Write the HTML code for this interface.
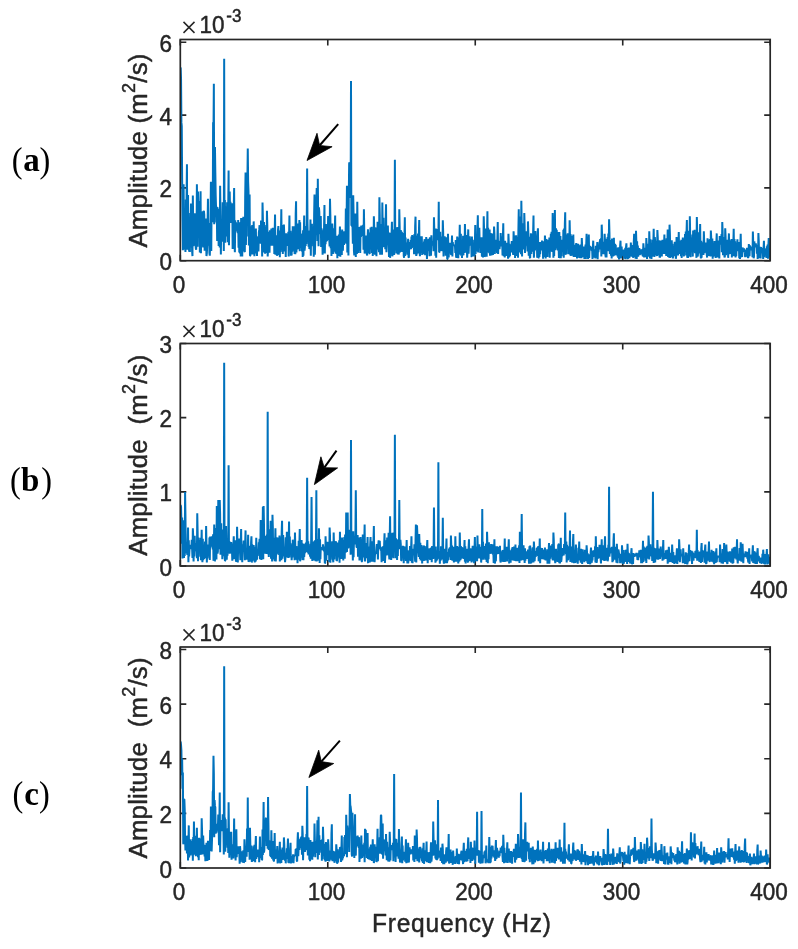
<!DOCTYPE html>
<html><head><meta charset="utf-8"><title>Spectra</title>
<style>
html,body{margin:0;padding:0;background:#fff;}
body{width:798px;height:949px;overflow:hidden;}
svg{display:block;will-change:transform;}
.t{font-family:"Liberation Sans",sans-serif;font-size:22.5px;fill:#262626;stroke:#262626;stroke-width:0.45px;stroke-linejoin:round;}
</style></head><body>
<svg width="798" height="949" viewBox="0 0 798 949">
<rect width="798" height="949" fill="#fff"/>
<path d="M180.30,260.7v-6M180.30,39.5v6M327.78,260.7v-6M327.78,39.5v6M475.25,260.7v-6M475.25,39.5v6M622.73,260.7v-6M622.73,39.5v6M770.20,260.7v-6M770.20,39.5v6M180.3,260.70h6M770.2,260.70h-6M180.3,187.90h6M770.2,187.90h-6M180.3,115.10h6M770.2,115.10h-6M180.3,42.30h6M770.2,42.30h-6" stroke="#262626" stroke-width="1.6" fill="none"/>
<clipPath id="c0"><rect x="180.3" y="39.5" width="589.9000000000001" height="221.2"/></clipPath>
<polyline clip-path="url(#c0)" points="180.30,67.78 180.67,67.78 181.04,78.70 181.41,122.38 181.77,126.02 182.14,180.62 182.51,220.19 182.88,250.27 183.25,199.65 183.62,184.26 183.99,249.40 184.36,213.13 184.72,246.88 185.09,246.50 185.46,251.99 185.83,199.46 186.20,246.34 186.57,195.85 186.94,164.24 187.31,249.81 187.67,234.80 188.04,195.09 188.41,245.57 188.78,213.02 189.15,251.74 189.52,221.35 189.89,251.95 190.25,217.58 190.62,235.28 190.99,203.40 191.36,247.44 191.73,222.99 192.10,251.11 192.47,256.09 192.84,195.54 193.20,224.73 193.57,246.11 193.94,243.74 194.31,219.09 194.68,213.38 195.05,231.95 195.42,223.82 195.78,248.13 196.15,249.75 196.52,242.87 196.89,184.26 197.26,216.32 197.63,246.76 198.00,191.54 198.37,206.43 198.73,201.13 199.10,206.79 199.47,210.59 199.84,252.54 200.21,222.45 200.58,191.18 200.95,253.18 201.32,214.14 201.68,246.48 202.05,225.87 202.42,215.05 202.79,211.29 203.16,247.50 203.53,214.23 203.90,210.73 204.26,214.83 204.63,250.64 205.00,219.79 205.37,233.88 205.74,218.63 206.11,242.96 206.48,256.04 206.85,253.29 207.21,245.55 207.58,224.04 207.95,198.82 208.32,245.72 208.69,226.77 209.06,222.93 209.43,252.82 209.80,255.68 210.16,242.46 210.53,217.29 210.90,181.71 211.27,251.00 211.64,199.66 212.01,191.52 212.38,222.05 212.74,217.82 213.11,122.37 213.48,132.85 213.85,83.80 214.22,224.18 214.59,153.05 214.96,147.01 215.33,172.73 215.69,195.32 216.06,208.09 216.43,222.49 216.80,206.78 217.17,240.87 217.54,207.26 217.91,213.69 218.27,210.99 218.64,245.93 219.01,209.10 219.38,241.06 219.75,247.51 220.12,185.72 220.49,215.53 220.86,254.46 221.22,222.90 221.59,222.02 221.96,224.26 222.33,241.84 222.70,202.27 223.07,219.84 223.44,205.24 223.81,251.11 224.17,58.68 224.54,239.45 224.91,200.12 225.28,242.80 225.65,210.68 226.02,236.48 226.39,206.61 226.75,232.15 227.12,202.14 227.49,223.48 227.86,242.31 228.23,207.12 228.60,170.43 228.97,245.28 229.34,205.44 229.70,191.54 230.07,211.04 230.44,201.66 230.81,222.98 231.18,209.52 231.55,203.91 231.92,222.43 232.28,203.16 232.65,249.01 233.02,209.45 233.39,241.90 233.76,206.95 234.13,187.90 234.50,245.03 234.87,252.28 235.23,220.28 235.60,228.26 235.97,222.34 236.34,227.31 236.71,227.14 237.08,230.32 237.45,231.69 237.82,233.02 238.18,220.00 238.55,247.80 238.92,225.22 239.29,252.61 239.66,222.25 240.03,253.44 240.40,237.34 240.76,256.37 241.13,218.11 241.50,239.31 241.87,250.90 242.24,256.52 242.61,218.10 242.98,250.49 243.35,216.74 243.71,251.10 244.08,222.37 244.45,251.49 244.82,252.09 245.19,196.70 245.56,172.61 245.93,245.05 246.30,213.68 246.66,236.48 247.03,182.34 247.40,179.43 247.77,148.59 248.14,181.67 248.51,191.41 248.88,245.56 249.24,222.33 249.61,194.45 249.98,255.61 250.35,255.65 250.72,226.36 251.09,230.31 251.46,232.59 251.83,254.45 252.19,225.05 252.56,254.39 252.93,244.45 253.30,254.51 253.67,221.39 254.04,238.80 254.41,256.21 254.77,249.89 255.14,252.62 255.51,249.38 255.88,228.62 256.25,253.55 256.62,239.44 256.99,255.94 257.36,237.37 257.72,250.77 258.09,236.33 258.46,251.36 258.83,232.75 259.20,229.91 259.57,225.19 259.94,231.92 260.31,233.58 260.67,243.66 261.04,220.40 261.41,240.40 261.78,230.51 262.15,256.52 262.52,202.46 262.89,217.66 263.25,250.96 263.62,252.34 263.99,222.12 264.36,246.62 264.73,226.67 265.10,253.81 265.47,238.02 265.84,239.01 266.20,225.05 266.57,252.98 266.94,210.83 267.31,225.28 267.68,256.44 268.05,249.73 268.42,231.80 268.79,249.42 269.15,235.70 269.52,252.61 269.89,230.19 270.26,244.37 270.63,232.54 271.00,245.66 271.37,228.42 271.73,245.37 272.10,233.54 272.47,245.82 272.84,227.72 273.21,244.40 273.58,231.06 273.95,229.48 274.32,254.09 274.68,232.58 275.05,214.47 275.42,254.84 275.79,238.72 276.16,246.56 276.53,235.25 276.90,255.81 277.26,252.83 277.63,246.21 278.00,230.05 278.37,226.15 278.74,237.06 279.11,255.35 279.48,230.53 279.85,257.26 280.21,235.57 280.58,251.92 280.95,233.00 281.32,209.38 281.69,249.37 282.06,250.07 282.43,232.44 282.80,253.94 283.16,225.09 283.53,251.63 283.90,224.50 284.27,234.42 284.64,236.58 285.01,251.22 285.38,236.70 285.74,257.09 286.11,233.18 286.48,244.85 286.85,233.86 287.22,242.99 287.59,245.96 287.96,243.61 288.33,231.75 288.69,256.45 289.06,236.25 289.43,215.56 289.80,248.54 290.17,248.58 290.54,230.76 290.91,255.75 291.27,237.28 291.64,255.54 292.01,232.46 292.38,251.70 292.75,226.28 293.12,249.99 293.49,228.96 293.86,250.61 294.22,226.38 294.59,254.09 294.96,231.30 295.33,254.24 295.70,213.61 296.07,201.37 296.44,252.39 296.81,226.81 297.17,231.54 297.54,223.55 297.91,248.34 298.28,248.89 298.65,224.24 299.02,231.59 299.39,220.07 299.75,251.13 300.12,222.22 300.49,247.88 300.86,233.47 301.23,247.84 301.60,236.45 301.97,251.41 302.34,234.35 302.70,256.87 303.07,230.30 303.44,255.80 303.81,234.05 304.18,215.56 304.55,250.64 304.92,246.96 305.29,228.51 305.65,245.95 306.02,226.12 306.39,243.91 306.76,223.60 307.13,168.61 307.50,222.54 307.87,238.98 308.23,234.51 308.60,246.76 308.97,233.96 309.34,248.99 309.71,230.58 310.08,249.35 310.45,219.44 310.82,255.78 311.18,227.48 311.55,246.25 311.92,223.74 312.29,243.47 312.66,230.07 313.03,244.28 313.40,228.82 313.76,256.66 314.13,214.89 314.50,194.45 314.87,254.71 315.24,240.22 315.61,217.45 315.98,235.32 316.35,206.15 316.71,187.90 317.08,193.86 317.45,241.01 317.82,178.80 318.19,219.17 318.56,246.34 318.93,207.38 319.30,211.88 319.66,234.16 320.03,225.39 320.40,231.71 320.77,216.09 321.14,246.98 321.51,228.39 321.88,230.77 322.24,230.35 322.61,254.65 322.98,250.53 323.35,250.03 323.72,250.60 324.09,224.64 324.46,205.01 324.83,253.48 325.19,226.20 325.56,244.27 325.93,223.94 326.30,237.88 326.67,240.66 327.04,240.58 327.41,227.07 327.78,238.16 328.14,216.14 328.51,235.80 328.88,239.70 329.25,238.66 329.62,246.35 329.99,198.82 330.36,215.08 330.72,248.34 331.09,230.04 331.46,255.94 331.83,225.36 332.20,223.45 332.57,233.01 332.94,254.10 333.31,233.30 333.67,244.04 334.04,228.35 334.41,251.65 334.78,230.42 335.15,215.56 335.52,253.59 335.89,245.44 336.25,240.60 336.62,253.88 336.99,235.73 337.36,258.15 337.73,242.22 338.10,252.24 338.47,255.83 338.84,234.60 339.20,252.77 339.57,238.19 339.94,226.48 340.31,256.79 340.68,236.94 341.05,234.86 341.42,231.04 341.79,255.02 342.15,229.55 342.52,234.66 342.89,250.61 343.26,235.80 343.63,232.05 344.00,244.98 344.37,231.25 344.73,235.16 345.10,239.62 345.47,242.70 345.84,208.52 346.21,243.70 346.58,221.66 346.95,185.72 347.32,252.58 347.68,224.48 348.05,211.21 348.42,255.56 348.79,195.13 349.16,163.51 349.53,162.42 349.90,177.58 350.26,183.20 350.63,197.85 351.00,80.88 351.37,225.72 351.74,204.89 352.11,226.66 352.48,224.50 352.85,243.80 353.21,195.18 353.58,213.22 353.95,251.11 354.32,255.30 354.69,217.01 355.06,249.71 355.43,213.48 355.80,256.94 356.16,222.14 356.53,251.96 356.90,254.01 357.27,201.73 357.64,229.11 358.01,253.01 358.38,231.83 358.74,250.77 359.11,227.09 359.48,245.55 359.85,231.09 360.22,252.98 360.59,226.55 360.96,236.97 361.33,225.64 361.69,235.50 362.06,230.76 362.43,235.85 362.80,234.14 363.17,224.67 363.54,249.84 363.91,209.38 364.28,232.37 364.64,253.60 365.01,250.77 365.38,250.67 365.75,235.54 366.12,237.87 366.49,245.29 366.86,254.25 367.22,255.46 367.59,238.82 367.96,229.18 368.33,242.81 368.70,232.64 369.07,250.98 369.44,253.40 369.81,253.50 370.17,236.94 370.54,227.63 370.91,238.34 371.28,249.48 371.65,226.65 372.02,253.08 372.39,237.18 372.75,255.91 373.12,237.49 373.49,251.43 373.86,216.29 374.23,228.10 374.60,252.18 374.97,254.50 375.34,227.39 375.70,238.35 376.07,228.35 376.44,256.19 376.81,232.89 377.18,249.45 377.55,221.79 377.92,245.89 378.29,223.84 378.65,247.88 379.02,252.15 379.39,197.36 379.76,214.32 380.13,254.67 380.50,230.57 380.87,224.17 381.23,226.87 381.60,234.45 381.97,254.82 382.34,202.46 382.71,228.09 383.08,247.20 383.45,217.76 383.82,247.03 384.18,230.55 384.55,233.25 384.92,229.85 385.29,249.28 385.66,221.19 386.03,204.28 386.40,252.15 386.77,244.44 387.13,235.57 387.50,242.14 387.87,225.54 388.24,244.62 388.61,234.02 388.98,256.94 389.35,232.51 389.71,240.13 390.08,257.83 390.45,250.24 390.82,233.03 391.19,251.65 391.56,234.01 391.93,221.75 392.30,256.36 392.66,254.33 393.03,236.12 393.40,232.75 393.77,229.62 394.14,255.09 394.51,236.28 394.88,159.87 395.24,239.87 395.61,250.38 395.98,233.32 396.35,253.59 396.72,230.21 397.09,227.39 397.46,228.54 397.83,254.58 398.19,233.97 398.56,254.48 398.93,252.46 399.30,209.38 399.67,225.98 400.04,252.30 400.41,249.50 400.78,230.17 401.14,233.02 401.51,243.76 401.88,231.70 402.25,252.06 402.62,238.54 402.99,250.83 403.36,232.95 403.72,255.68 404.09,257.82 404.46,235.74 404.83,217.38 405.20,255.96 405.57,237.58 405.94,248.48 406.31,242.47 406.67,249.13 407.04,245.41 407.41,254.59 407.78,244.24 408.15,238.86 408.52,257.10 408.89,257.82 409.25,244.34 409.62,249.44 409.99,242.12 410.36,248.44 410.73,240.01 411.10,249.28 411.47,236.64 411.84,248.01 412.20,235.05 412.57,244.93 412.94,247.30 413.31,246.81 413.68,235.85 414.05,254.22 414.42,233.97 414.79,253.47 415.15,226.19 415.52,216.66 415.89,250.59 416.26,255.84 416.63,254.15 417.00,252.46 417.37,238.22 417.73,236.52 418.10,233.52 418.47,253.50 418.84,234.89 419.21,219.93 419.58,252.19 419.95,256.19 420.32,236.30 420.68,252.84 421.05,243.08 421.42,252.98 421.79,236.24 422.16,254.87 422.53,252.64 422.90,254.29 423.27,242.89 423.63,253.96 424.00,242.41 424.37,241.41 424.74,239.25 425.11,255.17 425.48,241.86 425.85,255.04 426.21,237.04 426.58,244.73 426.95,258.91 427.32,246.91 427.69,247.71 428.06,247.95 428.43,238.86 428.80,251.02 429.16,245.02 429.53,256.17 429.90,237.21 430.27,252.12 430.64,239.08 431.01,255.85 431.38,235.25 431.74,244.51 432.11,244.91 432.48,244.66 432.85,241.41 433.22,243.14 433.59,251.12 433.96,217.38 434.33,231.08 434.69,250.91 435.06,239.68 435.43,255.68 435.80,228.53 436.17,257.71 436.54,235.43 436.91,238.87 437.28,239.04 437.64,228.97 438.01,238.40 438.38,239.99 438.75,201.73 439.12,252.26 439.49,252.04 439.86,244.36 440.22,231.75 440.59,251.01 440.96,240.21 441.33,240.14 441.70,236.68 442.07,241.57 442.44,251.19 442.81,220.30 443.17,231.71 443.54,256.51 443.91,242.25 444.28,247.34 444.65,236.36 445.02,246.03 445.39,237.36 445.76,255.63 446.12,237.33 446.49,255.40 446.86,240.30 447.23,258.89 447.60,258.89 447.97,233.76 448.34,246.33 448.70,257.40 449.07,243.56 449.44,253.30 449.81,242.76 450.18,245.40 450.55,246.89 450.92,254.13 451.29,254.37 451.65,246.27 452.02,235.58 452.39,256.52 452.76,242.16 453.13,245.61 453.50,245.22 453.87,245.30 454.23,245.70 454.60,244.75 454.97,245.78 455.34,253.05 455.71,240.08 456.08,256.36 456.45,257.63 456.82,255.82 457.18,236.56 457.55,257.95 457.92,242.95 458.29,258.16 458.66,237.55 459.03,252.71 459.40,241.12 459.77,224.66 460.13,253.20 460.50,254.36 460.87,233.86 461.24,255.85 461.61,242.51 461.98,258.02 462.35,241.12 462.71,255.38 463.08,235.71 463.45,255.13 463.82,241.14 464.19,252.03 464.56,252.83 464.93,223.94 465.30,236.88 465.66,252.62 466.03,242.18 466.40,235.07 466.77,243.44 467.14,257.61 467.51,252.51 467.88,239.68 468.24,229.40 468.61,253.64 468.98,244.30 469.35,245.55 469.72,236.37 470.09,244.79 470.46,239.58 470.83,243.58 471.19,238.78 471.56,257.13 471.93,236.51 472.30,254.50 472.67,254.55 473.04,252.01 473.41,254.68 473.78,256.26 474.14,239.66 474.51,256.40 474.88,242.57 475.25,225.03 475.62,254.03 475.99,236.95 476.36,241.67 476.72,234.00 477.09,251.47 477.46,229.29 477.83,215.20 478.20,252.41 478.57,229.27 478.94,241.37 479.31,227.75 479.67,243.21 480.04,237.83 480.41,252.89 480.78,239.27 481.15,250.63 481.52,237.26 481.89,256.80 482.26,238.01 482.62,251.67 482.99,257.55 483.36,249.72 483.73,216.29 484.10,230.42 484.47,256.75 484.84,256.11 485.20,228.57 485.57,253.08 485.94,237.47 486.31,248.52 486.68,256.78 487.05,233.08 487.42,211.20 487.79,252.47 488.15,227.72 488.52,243.84 488.89,236.52 489.26,253.24 489.63,229.43 490.00,255.68 490.37,233.07 490.73,253.36 491.10,233.35 491.47,255.39 491.84,239.86 492.21,253.22 492.58,233.47 492.95,254.92 493.32,242.22 493.68,253.27 494.05,226.48 494.42,233.81 494.79,253.94 495.16,243.69 495.53,239.85 495.90,243.70 496.27,241.00 496.63,244.88 497.00,253.22 497.37,239.48 497.74,222.12 498.11,254.02 498.48,240.81 498.85,246.29 499.21,242.37 499.58,249.10 499.95,242.69 500.32,246.28 500.69,233.08 501.06,245.77 501.43,236.57 501.80,244.71 502.16,239.85 502.53,255.50 502.90,236.90 503.27,223.21 503.64,256.34 504.01,250.90 504.38,240.75 504.75,257.37 505.11,240.85 505.48,250.77 505.85,245.21 506.22,255.97 506.59,242.74 506.96,254.39 507.33,246.82 507.69,249.36 508.06,258.72 508.43,233.76 508.80,242.80 509.17,257.45 509.54,243.66 509.91,256.33 510.28,247.14 510.64,252.13 511.01,245.33 511.38,251.67 511.75,241.08 512.12,252.48 512.49,243.57 512.86,251.84 513.22,254.87 513.59,231.22 513.96,239.48 514.33,254.55 514.70,235.63 515.07,257.90 515.44,242.95 515.81,253.10 516.17,235.22 516.54,256.03 516.91,237.33 517.28,242.15 517.65,239.05 518.02,257.65 518.39,230.45 518.76,209.38 519.12,252.58 519.49,237.56 519.86,236.84 520.23,221.00 520.60,216.46 520.97,254.12 521.34,200.64 521.70,225.88 522.07,256.58 522.44,225.85 522.81,223.37 523.18,237.11 523.55,231.88 523.92,249.53 524.29,213.02 524.65,225.96 525.02,253.04 525.39,243.96 525.76,237.08 526.13,245.76 526.50,231.37 526.87,243.89 527.23,237.56 527.60,251.42 527.97,221.39 528.34,232.63 528.71,255.85 529.08,253.55 529.45,236.84 529.82,257.61 530.18,257.88 530.55,243.89 530.92,233.26 531.29,253.96 531.66,238.78 532.03,246.63 532.40,234.37 532.77,251.66 533.13,231.68 533.50,215.56 533.87,257.67 534.24,250.41 534.61,235.59 534.98,250.42 535.35,231.13 535.71,243.32 536.08,235.62 536.45,245.66 536.82,237.43 537.19,257.65 537.56,234.79 537.93,228.30 538.30,258.04 538.66,257.56 539.03,242.06 539.40,257.01 539.77,242.10 540.14,254.26 540.51,245.68 540.88,242.29 541.25,242.97 541.61,250.44 541.98,240.53 542.35,250.19 542.72,241.25 543.09,258.66 543.46,244.49 543.83,253.02 544.19,241.33 544.56,256.89 544.93,235.58 545.30,241.47 545.67,258.50 546.04,249.12 546.41,238.92 546.78,250.04 547.14,240.38 547.51,257.02 547.88,240.68 548.25,247.13 548.62,239.81 548.99,250.76 549.36,237.44 549.72,257.70 550.09,239.61 550.46,251.59 550.83,233.80 551.20,241.46 551.57,231.70 551.94,239.22 552.31,252.00 552.67,213.02 553.04,227.63 553.41,257.66 553.78,234.24 554.15,256.08 554.52,232.78 554.89,210.10 555.26,249.69 555.62,248.96 555.99,228.26 556.36,247.69 556.73,229.85 557.10,248.11 557.47,231.98 557.84,250.41 558.20,249.63 558.57,245.90 558.94,257.85 559.31,231.94 559.68,246.05 560.05,258.20 560.42,236.03 560.79,258.23 561.15,242.93 561.52,256.12 561.89,239.66 562.26,252.03 562.63,242.48 563.00,251.64 563.37,229.73 563.74,257.75 564.10,228.57 564.47,252.25 564.84,224.12 565.21,212.29 565.58,253.75 565.95,254.47 566.32,236.64 566.68,234.87 567.05,238.31 567.42,235.48 567.79,233.33 568.16,254.16 568.53,234.77 568.90,250.84 569.27,254.17 569.63,220.30 570.00,236.66 570.37,255.55 570.74,234.33 571.11,255.89 571.48,236.00 571.85,247.46 572.21,242.03 572.58,255.60 572.95,241.16 573.32,234.49 573.69,257.00 574.06,251.14 574.43,244.78 574.80,250.62 575.16,247.62 575.53,257.07 575.90,245.54 576.27,243.13 576.64,244.93 577.01,258.39 577.38,247.25 577.75,256.64 578.11,243.87 578.48,251.07 578.85,245.16 579.22,258.07 579.59,256.59 579.96,258.14 580.33,249.47 580.69,244.65 581.06,245.45 581.43,258.32 581.80,238.13 582.17,246.87 582.54,257.25 582.91,250.80 583.28,247.14 583.64,250.64 584.01,246.61 584.38,258.97 584.75,248.64 585.12,257.36 585.49,244.43 585.86,258.99 586.22,244.69 586.59,233.76 586.96,256.49 587.33,255.15 587.70,244.97 588.07,258.87 588.44,241.80 588.81,234.49 589.17,258.00 589.54,249.22 589.91,245.98 590.28,248.65 590.65,247.28 591.02,247.39 591.39,248.24 591.76,250.93 592.12,248.21 592.49,258.95 592.86,247.35 593.23,240.68 593.60,256.33 593.97,257.46 594.34,249.28 594.70,256.83 595.07,249.73 595.44,258.50 595.81,245.82 596.18,256.21 596.55,257.53 596.92,249.61 597.29,242.14 597.65,259.16 598.02,247.31 598.39,252.13 598.76,248.35 599.13,248.85 599.50,242.83 599.87,241.56 600.24,239.10 600.60,249.53 600.97,238.18 601.34,256.44 601.71,224.66 602.08,234.62 602.45,254.18 602.82,250.72 603.18,241.80 603.55,250.84 603.92,241.91 604.29,254.32 604.66,233.76 605.03,242.86 605.40,255.07 605.77,257.41 606.13,243.81 606.50,257.45 606.87,238.89 607.24,250.89 607.61,237.09 607.98,244.92 608.35,233.45 608.71,251.30 609.08,219.20 609.45,232.20 609.82,253.93 610.19,246.69 610.56,240.09 610.93,255.81 611.30,244.18 611.66,258.37 612.03,238.57 612.40,255.41 612.77,250.55 613.14,256.34 613.51,248.64 613.88,237.77 614.25,255.57 614.61,253.50 614.98,243.73 615.35,252.45 615.72,244.70 616.09,255.10 616.46,249.02 616.83,255.18 617.19,248.59 617.56,256.39 617.93,247.52 618.30,257.97 618.67,247.32 619.04,259.46 619.41,248.14 619.78,257.45 620.14,245.64 620.51,240.68 620.88,258.29 621.25,256.35 621.62,246.57 621.99,254.23 622.36,251.24 622.73,253.26 623.09,254.16 623.46,255.99 623.83,249.44 624.20,258.64 624.57,252.09 624.94,252.90 625.31,247.86 625.67,259.14 626.04,246.93 626.41,243.23 626.78,256.55 627.15,257.73 627.52,249.05 627.89,259.13 628.26,248.12 628.62,256.75 628.99,247.65 629.36,258.10 629.73,252.06 630.10,251.83 630.47,256.13 630.84,242.50 631.20,249.93 631.57,256.59 631.94,246.40 632.31,256.67 632.68,244.92 633.05,257.76 633.42,256.21 633.79,241.66 634.15,233.76 634.52,255.12 634.89,245.66 635.26,255.45 635.63,258.56 636.00,230.85 636.37,242.05 636.74,258.91 637.10,241.24 637.47,253.98 637.84,245.42 638.21,256.69 638.58,249.95 638.95,254.63 639.32,247.95 639.68,255.13 640.05,249.37 640.42,254.67 640.79,250.47 641.16,251.03 641.53,252.32 641.90,249.88 642.27,249.78 642.63,255.72 643.00,256.08 643.37,243.23 643.74,249.09 644.11,257.51 644.48,247.67 644.85,253.44 645.21,248.20 645.58,256.14 645.95,257.04 646.32,238.13 646.69,245.40 647.06,258.92 647.43,247.81 647.80,248.68 648.16,243.95 648.53,246.97 648.90,256.66 649.27,231.22 649.64,241.94 650.01,258.60 650.38,239.24 650.75,253.34 651.11,246.60 651.48,258.85 651.85,244.96 652.22,256.62 652.59,239.83 652.96,255.98 653.33,242.35 653.69,228.67 654.06,252.89 654.43,256.86 654.80,237.13 655.17,241.23 655.54,241.74 655.91,255.41 656.28,241.38 656.64,254.38 657.01,255.95 657.38,230.12 657.75,237.26 658.12,255.41 658.49,244.80 658.86,240.24 659.23,245.39 659.59,257.44 659.96,256.99 660.33,242.92 660.70,240.54 661.07,244.62 661.44,242.65 661.81,256.58 662.17,244.17 662.54,239.93 662.91,242.65 663.28,249.67 663.65,254.04 664.02,246.42 664.39,234.49 664.76,254.05 665.12,239.68 665.49,248.49 665.86,241.90 666.23,255.99 666.60,238.17 666.97,253.76 667.34,244.73 667.70,229.40 668.07,256.98 668.44,255.63 668.81,243.65 669.18,257.83 669.55,224.66 669.92,233.93 670.29,257.93 670.65,243.98 671.02,242.72 671.39,251.17 671.76,240.22 672.13,256.96 672.50,243.72 672.87,258.50 673.24,254.39 673.60,247.84 673.97,246.54 674.34,256.31 674.71,241.70 675.08,254.41 675.45,245.73 675.82,258.82 676.18,256.17 676.55,237.04 676.92,243.64 677.29,254.41 677.66,242.32 678.03,255.37 678.40,245.41 678.77,231.94 679.13,253.37 679.50,252.98 679.87,245.19 680.24,254.07 680.61,240.67 680.98,256.23 681.35,239.82 681.72,257.89 682.08,241.55 682.45,249.45 682.82,237.46 683.19,254.82 683.56,243.82 683.93,256.39 684.30,239.34 684.66,248.17 685.03,234.11 685.40,251.96 685.77,231.44 686.14,255.53 686.51,233.07 686.88,219.93 687.25,257.68 687.61,253.99 687.98,257.86 688.35,248.76 688.72,230.87 689.09,251.64 689.46,256.54 689.83,216.29 690.19,235.26 690.56,257.12 690.93,239.75 691.30,252.32 691.67,237.47 692.04,246.99 692.41,234.60 692.78,256.61 693.14,230.60 693.51,239.19 693.88,233.96 694.25,252.21 694.62,229.69 694.99,253.26 695.36,239.01 695.73,251.10 696.09,250.01 696.46,257.86 696.83,217.02 697.20,231.23 697.57,256.63 697.94,255.07 698.31,240.19 698.67,253.55 699.04,232.39 699.41,251.50 699.78,241.34 700.15,223.94 700.52,254.81 700.89,258.46 701.26,240.83 701.62,257.79 701.99,242.20 702.36,243.33 702.73,244.18 703.10,244.06 703.47,254.96 703.84,231.22 704.20,242.16 704.57,253.15 704.94,246.20 705.31,251.56 705.68,242.48 706.05,248.86 706.42,245.91 706.79,255.16 707.15,257.58 707.52,238.33 707.89,241.96 708.26,245.68 708.63,239.45 709.00,255.95 709.37,240.00 709.74,255.65 710.10,238.97 710.47,256.49 710.84,230.49 711.21,237.40 711.58,256.27 711.95,252.10 712.32,238.49 712.68,258.83 713.05,244.82 713.42,256.72 713.79,246.80 714.16,247.97 714.53,240.93 714.90,255.92 715.27,244.12 715.63,257.89 716.00,254.06 716.37,242.33 716.74,233.40 717.11,254.60 717.48,257.49 717.85,247.68 718.22,240.49 718.58,251.56 718.95,245.71 719.32,258.59 719.69,235.90 720.06,243.45 720.43,244.28 720.80,241.83 721.16,241.57 721.53,234.16 721.90,252.22 722.27,222.12 722.64,231.03 723.01,255.15 723.38,239.63 723.75,242.99 724.11,236.97 724.48,257.46 724.85,256.42 725.22,228.30 725.59,236.18 725.96,255.16 726.33,242.77 726.69,254.32 727.06,239.84 727.43,247.15 727.80,240.43 728.17,257.85 728.54,243.16 728.91,233.40 729.28,254.19 729.64,249.33 730.01,240.18 730.38,253.45 730.75,242.10 731.12,254.09 731.49,239.03 731.86,257.52 732.23,242.66 732.59,247.26 732.96,255.82 733.33,243.40 733.70,228.67 734.07,256.22 734.44,239.13 734.81,250.55 735.17,241.24 735.54,257.59 735.91,243.12 736.28,256.19 736.65,245.94 737.02,250.23 737.39,239.39 737.76,249.95 738.12,246.05 738.49,251.20 738.86,242.01 739.23,258.23 739.60,247.44 739.97,258.95 740.34,245.40 740.71,233.76 741.07,254.41 741.44,256.11 741.81,256.43 742.18,256.67 742.55,247.43 742.92,251.03 743.29,251.65 743.65,250.15 744.02,248.25 744.39,252.14 744.76,251.02 745.13,257.13 745.50,249.62 745.87,256.27 746.24,249.66 746.60,256.64 746.97,247.80 747.34,250.07 747.71,257.08 748.08,257.69 748.45,257.05 748.82,243.96 749.18,250.87 749.55,256.26 749.92,245.39 750.29,250.05 750.66,249.09 751.03,249.58 751.40,248.65 751.77,248.67 752.13,246.77 752.50,257.29 752.87,231.58 753.24,243.14 753.61,258.33 753.98,256.44 754.35,241.43 754.72,247.18 755.08,245.45 755.45,247.17 755.82,243.38 756.19,247.21 756.56,245.96 756.93,253.75 757.30,244.87 757.66,258.97 758.03,256.60 758.40,233.04 758.77,241.15 759.14,257.59 759.51,256.71 759.88,257.94 760.25,246.70 760.61,258.58 760.98,247.01 761.35,252.73 761.72,247.83 762.09,253.24 762.46,248.97 762.83,252.69 763.19,259.03 763.56,248.64 763.93,240.68 764.30,257.32 764.67,248.37 765.04,254.27 765.41,248.92 765.78,251.70 766.14,249.35 766.51,257.99 766.88,246.37 767.25,254.00 767.62,244.63 767.99,258.77 768.36,246.36 768.73,238.13 769.09,257.28 769.46,250.58 769.83,248.26 770.20,250.30" fill="none" stroke="#0072BD" stroke-width="2.0" stroke-linejoin="bevel"/>
<rect x="180.3" y="39.5" width="589.9000000000001" height="221.2" fill="none" stroke="#262626" stroke-width="1.7"/>
<text class="t" transform="translate(179.10,292.70) scale(1,1.09)" text-anchor="middle">0</text>
<text class="t" transform="translate(326.58,292.70) scale(1,1.09)" text-anchor="middle">100</text>
<text class="t" transform="translate(474.05,292.70) scale(1,1.09)" text-anchor="middle">200</text>
<text class="t" transform="translate(621.53,292.70) scale(1,1.09)" text-anchor="middle">300</text>
<text class="t" transform="translate(769.00,292.70) scale(1,1.09)" text-anchor="middle">400</text>
<text class="t" transform="translate(172.00,270.20) scale(1,1.09)" text-anchor="end">0</text>
<text class="t" transform="translate(172.00,197.40) scale(1,1.09)" text-anchor="end">2</text>
<text class="t" transform="translate(172.00,124.60) scale(1,1.09)" text-anchor="end">4</text>
<text class="t" transform="translate(172.00,51.80) scale(1,1.09)" text-anchor="end">6</text>
<path d="M183.50,21.90l11.0,11.0M194.50,21.90l-11.0,11.0" stroke="#262626" stroke-width="1.5" fill="none"/>
<text class="t" transform="translate(199.60,33.00) scale(1,1.09)">10<tspan dx="1.6" dy="-9.8" style="font-size:17px">-3</tspan></text>
<text class="t" style="font-size:25.8px" transform="translate(147,150.60) rotate(-90)" text-anchor="middle" textLength="194" xml:space="preserve">Amplitude (m<tspan dy="-12" style="font-size:18px">2</tspan><tspan dy="12">/s)</tspan></text>
<g font-family="Liberation Serif, serif" fill="#000"><text transform="translate(11.70,172.30) scale(0.9,1)" font-size="36">(</text><text x="23.30" y="171.00" font-size="33" font-weight="bold">a</text><text transform="translate(39.50,172.30) scale(0.9,1)" font-size="36">)</text></g>
<line x1="338.2" y1="124.1" x2="319.6" y2="145.5" stroke="#000" stroke-width="2.0"/>
<polygon points="307.0,160.5 317.0,133.3 319.6,145.5 332.1,146.7" fill="#000" stroke="#000" stroke-width="0.8" stroke-linejoin="round"/>
<path d="M180.30,566.0v-6M180.30,343.5v6M327.78,566.0v-6M327.78,343.5v6M475.25,566.0v-6M475.25,343.5v6M622.73,566.0v-6M622.73,343.5v6M770.20,566.0v-6M770.20,343.5v6M180.3,566.00h6M770.2,566.00h-6M180.3,491.83h6M770.2,491.83h-6M180.3,417.67h6M770.2,417.67h-6M180.3,343.50h6M770.2,343.50h-6" stroke="#262626" stroke-width="1.6" fill="none"/>
<clipPath id="c1"><rect x="180.3" y="343.5" width="589.9000000000001" height="222.5"/></clipPath>
<polyline clip-path="url(#c1)" points="180.30,505.18 180.67,505.18 181.04,506.67 181.41,521.50 181.77,543.75 182.14,517.45 182.51,558.47 182.88,535.10 183.25,546.16 183.62,520.24 183.99,558.09 184.36,530.00 184.72,555.93 185.09,492.13 185.46,516.19 185.83,553.43 186.20,542.39 186.57,544.23 186.94,544.30 187.31,555.09 187.67,546.07 188.04,527.43 188.41,562.21 188.78,540.19 189.15,556.48 189.52,548.87 189.89,546.91 190.25,546.63 190.62,544.94 190.99,548.08 191.36,548.66 191.73,539.68 192.10,548.21 192.47,557.93 192.84,528.17 193.20,536.53 193.57,561.47 193.94,544.20 194.31,556.59 194.68,535.74 195.05,549.33 195.42,551.07 195.78,546.22 196.15,543.00 196.52,549.99 196.89,558.09 197.26,513.34 197.63,531.63 198.00,561.23 198.37,537.49 198.73,556.83 199.10,541.55 199.47,549.38 199.84,540.18 200.21,552.80 200.58,537.68 200.95,560.19 201.32,545.92 201.68,529.66 202.05,556.39 202.42,562.23 202.79,538.79 203.16,559.94 203.53,558.04 203.90,556.48 204.26,558.80 204.63,554.33 205.00,541.48 205.37,546.70 205.74,557.99 206.11,525.95 206.48,542.93 206.85,562.42 207.21,546.39 207.58,558.52 207.95,544.48 208.32,550.80 208.69,546.04 209.06,556.38 209.43,537.49 209.80,560.07 210.16,536.50 210.53,547.48 210.90,538.88 211.27,537.59 211.64,537.23 212.01,537.11 212.38,537.43 212.74,549.39 213.11,534.27 213.48,560.66 213.85,545.12 214.22,524.47 214.59,561.02 214.96,560.56 215.33,528.13 215.69,541.69 216.06,528.61 216.43,559.39 216.80,505.93 217.17,518.64 217.54,553.63 217.91,551.08 218.27,499.99 218.64,507.82 219.01,523.44 219.38,549.32 219.75,499.99 220.12,514.15 220.49,554.84 220.86,535.21 221.22,523.28 221.59,554.64 221.96,529.46 222.33,559.23 222.70,529.57 223.07,553.84 223.44,533.61 223.81,556.12 224.17,362.78 224.54,553.07 224.91,560.78 225.28,560.62 225.65,557.51 226.02,525.95 226.39,543.87 226.75,559.74 227.12,546.55 227.49,555.63 227.86,545.39 228.23,553.85 228.60,465.13 228.97,552.36 229.34,541.02 229.70,553.67 230.07,549.45 230.44,553.47 230.81,544.84 231.18,542.18 231.55,544.97 231.92,546.93 232.28,560.60 232.65,559.11 233.02,557.23 233.39,545.31 233.76,536.33 234.13,558.85 234.50,547.55 234.87,542.42 235.23,540.26 235.60,558.88 235.97,560.83 236.34,561.63 236.71,558.35 237.08,526.69 237.45,542.69 237.82,562.47 238.18,544.06 238.55,552.40 238.92,538.47 239.29,550.88 239.66,539.74 240.03,552.84 240.40,560.12 240.76,541.98 241.13,528.92 241.50,557.92 241.87,544.21 242.24,562.33 242.61,546.89 242.98,544.26 243.35,547.50 243.71,540.44 244.08,543.94 244.45,549.37 244.82,560.15 245.19,542.13 245.56,530.40 245.93,559.34 246.30,548.85 246.66,559.74 247.03,549.15 247.40,559.26 247.77,549.47 248.14,534.85 248.51,561.63 248.88,561.29 249.24,545.80 249.61,555.22 249.98,546.21 250.35,558.89 250.72,561.57 251.09,542.30 251.46,536.33 251.83,562.61 252.19,544.19 252.56,561.25 252.93,545.41 253.30,559.70 253.67,544.97 254.04,558.21 254.41,549.05 254.77,562.49 255.14,546.89 255.51,561.33 255.88,560.19 256.25,537.82 256.62,550.76 256.99,559.70 257.36,550.26 257.72,555.91 258.09,549.18 258.46,553.59 258.83,542.38 259.20,544.98 259.57,538.86 259.94,559.35 260.31,554.24 260.67,520.02 261.04,534.60 261.41,559.94 261.78,530.73 262.15,553.37 262.52,535.98 262.89,506.67 263.25,559.22 263.62,505.93 263.99,525.06 264.36,553.73 264.73,545.23 265.10,545.91 265.47,535.68 265.84,553.67 266.20,551.92 266.57,553.87 266.94,534.41 267.31,551.66 267.68,411.73 268.05,554.33 268.42,532.53 268.79,557.09 269.15,529.32 269.52,554.39 269.89,552.69 270.26,536.73 270.63,520.76 271.00,558.70 271.37,539.34 271.73,545.14 272.10,561.52 272.47,514.83 272.84,527.25 273.21,559.36 273.58,542.62 273.95,546.91 274.32,537.73 274.68,561.27 275.05,545.44 275.42,528.17 275.79,561.56 276.16,553.11 276.53,537.30 276.90,554.35 277.26,545.06 277.63,550.70 278.00,537.51 278.37,552.78 278.74,546.45 279.11,554.94 279.48,535.41 279.85,561.39 280.21,537.24 280.58,546.05 280.95,545.13 281.32,560.24 281.69,531.66 282.06,520.76 282.43,558.66 282.80,545.73 283.16,535.13 283.53,546.09 283.90,556.49 284.27,549.01 284.64,547.01 285.01,562.24 285.38,558.61 285.74,537.35 286.11,545.47 286.48,557.58 286.85,531.88 287.22,546.68 287.59,556.76 287.96,548.73 288.33,558.00 288.69,541.39 289.06,521.50 289.43,557.54 289.80,536.52 290.17,550.33 290.54,543.26 290.91,550.59 291.27,547.15 291.64,560.22 292.01,554.57 292.38,557.40 292.75,539.66 293.12,549.14 293.49,547.16 293.86,555.32 294.22,551.35 294.59,560.17 294.96,532.62 295.33,546.96 295.70,559.40 296.07,558.75 296.44,546.16 296.81,555.71 297.17,549.63 297.54,563.16 297.91,549.33 298.28,559.78 298.65,540.88 299.02,556.84 299.39,544.15 299.75,528.92 300.12,561.21 300.49,559.38 300.86,540.02 301.23,557.54 301.60,540.08 301.97,557.63 302.34,543.15 302.70,560.07 303.07,543.86 303.44,560.16 303.81,544.27 304.18,557.02 304.55,551.24 304.92,553.09 305.29,543.45 305.65,549.38 306.02,542.48 306.39,552.30 306.76,539.26 307.13,477.74 307.50,538.45 307.87,552.76 308.23,541.19 308.60,554.45 308.97,548.20 309.34,545.84 309.71,547.58 310.08,556.79 310.45,543.82 310.82,558.85 311.18,539.29 311.55,497.02 311.92,541.43 312.29,560.87 312.66,559.10 313.03,555.96 313.40,542.30 313.76,554.86 314.13,541.20 314.50,560.55 314.87,540.36 315.24,557.92 315.61,561.20 315.98,541.26 316.35,490.35 316.71,561.48 317.08,538.95 317.45,540.75 317.82,543.89 318.19,558.97 318.56,560.40 318.93,528.17 319.30,546.06 319.66,562.91 320.03,539.28 320.40,559.34 320.77,547.34 321.14,548.75 321.51,548.68 321.88,550.06 322.24,548.74 322.61,548.99 322.98,544.34 323.35,549.88 323.72,550.24 324.09,551.03 324.46,546.53 324.83,563.30 325.19,562.97 325.56,536.33 325.93,548.16 326.30,560.84 326.67,547.01 327.04,552.03 327.41,541.68 327.78,554.63 328.14,545.03 328.51,555.20 328.88,542.06 329.25,562.02 329.62,527.43 329.99,535.64 330.36,562.81 330.72,549.07 331.09,549.47 331.46,543.28 331.83,545.61 332.20,541.30 332.57,559.34 332.94,559.66 333.31,562.25 333.67,532.62 334.04,545.81 334.41,559.56 334.78,541.72 335.15,545.33 335.52,543.06 335.89,541.30 336.25,544.32 336.62,561.09 336.99,560.49 337.36,557.33 337.73,542.65 338.10,556.61 338.47,554.74 338.84,557.21 339.20,540.24 339.57,562.81 339.94,531.88 340.31,548.76 340.68,556.65 341.05,558.79 341.42,538.44 341.79,559.07 342.15,537.53 342.52,557.01 342.89,540.01 343.26,560.53 343.63,544.05 344.00,556.82 344.37,536.94 344.73,558.84 345.10,534.40 345.47,546.54 345.84,552.64 346.21,512.60 346.58,524.80 346.95,551.95 347.32,537.83 347.68,512.60 348.05,547.21 348.42,548.34 348.79,529.77 349.16,540.85 349.53,532.90 349.90,547.17 350.26,530.56 350.63,554.84 351.00,439.92 351.37,553.83 351.74,538.24 352.11,540.95 352.48,540.17 352.85,560.49 353.21,531.35 353.58,557.23 353.95,539.71 354.32,540.95 354.69,536.08 355.06,544.42 355.43,532.19 355.80,490.35 356.16,534.99 356.53,546.64 356.90,547.68 357.27,544.93 357.64,535.07 358.01,556.69 358.38,539.77 358.74,556.76 359.11,537.45 359.48,560.40 359.85,539.41 360.22,559.67 360.59,537.01 360.96,553.58 361.33,539.11 361.69,561.39 362.06,561.38 362.43,557.97 362.80,534.61 363.17,551.10 363.54,535.25 363.91,557.54 364.28,540.36 364.64,524.47 365.01,561.51 365.38,555.79 365.75,543.04 366.12,554.52 366.49,548.95 366.86,558.31 367.22,550.23 367.59,537.08 367.96,562.50 368.33,562.70 368.70,546.62 369.07,557.76 369.44,551.16 369.81,562.57 370.17,544.96 370.54,537.08 370.91,559.88 371.28,561.43 371.65,541.16 372.02,559.96 372.39,542.05 372.75,561.69 373.12,557.47 373.49,541.00 373.86,525.95 374.23,558.58 374.60,562.08 374.97,554.67 375.34,553.84 375.70,552.01 376.07,553.02 376.44,547.96 376.81,543.97 377.18,553.91 377.55,547.00 377.92,559.43 378.29,544.48 378.65,540.21 379.02,544.97 379.39,547.73 379.76,540.80 380.13,549.03 380.50,547.20 380.87,550.54 381.23,548.97 381.60,562.21 381.97,547.43 382.34,560.33 382.71,546.30 383.08,560.94 383.45,549.12 383.82,559.68 384.18,543.64 384.55,533.37 384.92,563.03 385.29,556.27 385.66,545.62 386.03,551.27 386.40,540.22 386.77,555.56 387.13,537.47 387.50,554.82 387.87,545.01 388.24,548.87 388.61,532.77 388.98,553.97 389.35,559.35 389.71,537.77 390.08,516.31 390.45,554.47 390.82,540.21 391.19,560.00 391.56,540.56 391.93,541.92 392.30,532.76 392.66,557.35 393.03,539.00 393.40,558.30 393.77,532.48 394.14,546.60 394.51,536.76 394.88,434.73 395.24,535.24 395.61,558.30 395.98,538.25 396.35,547.35 396.72,542.79 397.09,559.90 397.46,539.72 397.83,556.06 398.19,539.16 398.56,539.89 398.93,546.78 399.30,499.99 399.67,546.34 400.04,549.21 400.41,539.89 400.78,544.12 401.14,560.38 401.51,560.43 401.88,546.26 402.25,558.24 402.62,550.13 402.99,546.55 403.36,545.99 403.72,563.30 404.09,551.33 404.46,553.94 404.83,546.67 405.20,553.71 405.57,550.21 405.94,560.86 406.31,551.65 406.67,540.04 407.04,558.63 407.41,563.54 407.78,550.33 408.15,563.42 408.52,560.55 408.89,557.94 409.25,552.07 409.62,557.78 409.99,546.05 410.36,556.77 410.73,560.89 411.10,548.43 411.47,536.33 411.84,562.67 412.20,548.80 412.57,563.13 412.94,550.38 413.31,553.10 413.68,549.54 414.05,554.70 414.42,544.27 414.79,554.10 415.15,561.78 415.52,540.99 415.89,524.47 416.26,562.50 416.63,542.17 417.00,525.21 417.37,533.94 417.73,544.32 418.10,539.68 418.47,552.59 418.84,556.93 419.21,534.11 419.58,545.35 419.95,558.92 420.32,542.68 420.68,560.55 421.05,545.13 421.42,557.90 421.79,547.31 422.16,563.41 422.53,550.75 422.90,551.39 423.27,545.42 423.63,561.02 424.00,545.42 424.37,560.73 424.74,551.82 425.11,548.56 425.48,548.42 425.85,560.40 426.21,546.09 426.58,559.97 426.95,547.56 427.32,540.04 427.69,563.14 428.06,553.33 428.43,549.02 428.80,558.76 429.16,553.03 429.53,548.35 429.90,559.05 430.27,559.47 430.64,553.48 431.01,548.24 431.38,548.12 431.74,562.25 432.11,546.11 432.48,556.44 432.85,547.13 433.22,558.86 433.59,550.71 433.96,507.41 434.33,550.29 434.69,556.17 435.06,549.17 435.43,562.64 435.80,546.48 436.17,561.51 436.54,552.28 436.91,560.51 437.28,552.54 437.64,553.86 438.01,549.40 438.38,462.17 438.75,552.27 439.12,559.15 439.49,552.93 439.86,563.83 440.22,551.38 440.59,560.75 440.96,546.38 441.33,559.64 441.70,550.06 442.07,559.07 442.44,549.57 442.81,517.79 443.17,552.64 443.54,560.22 443.91,563.72 444.28,558.60 444.65,548.78 445.02,554.29 445.39,550.16 445.76,563.25 446.12,549.23 446.49,538.56 446.86,563.06 447.23,561.68 447.60,551.94 447.97,560.46 448.34,555.38 448.70,556.55 449.07,548.53 449.44,552.92 449.81,547.40 450.18,552.45 450.55,559.90 450.92,535.59 451.29,544.43 451.65,559.63 452.02,545.64 452.39,560.79 452.76,547.61 453.13,558.04 453.50,546.80 453.87,562.47 454.23,558.20 454.60,561.48 454.97,559.82 455.34,536.33 455.71,550.90 456.08,561.84 456.45,549.43 456.82,547.85 457.18,546.00 457.55,561.13 457.92,558.32 458.29,563.40 458.66,546.90 459.03,560.80 459.40,561.44 459.77,532.62 460.13,546.95 460.50,560.11 460.87,546.05 461.24,558.31 461.61,557.45 461.98,547.57 462.35,548.05 462.71,558.42 463.08,548.67 463.45,557.08 463.82,558.82 464.19,550.13 464.56,540.04 464.93,561.78 465.30,546.37 465.66,563.45 466.03,551.33 466.40,552.32 466.77,548.83 467.14,560.74 467.51,559.31 467.88,561.82 468.24,562.19 468.61,547.01 468.98,539.30 469.35,561.07 469.72,551.19 470.09,558.78 470.46,548.30 470.83,558.72 471.19,557.67 471.56,562.44 471.93,549.43 472.30,553.42 472.67,545.80 473.04,561.40 473.41,547.63 473.78,556.16 474.14,563.12 474.51,549.05 474.88,537.08 475.25,561.40 475.62,551.83 475.99,561.22 476.36,549.50 476.72,546.62 477.09,561.32 477.46,535.59 477.83,549.68 478.20,558.45 478.57,544.64 478.94,549.25 479.31,544.24 479.67,558.42 480.04,550.69 480.41,552.29 480.78,546.74 481.15,562.59 481.52,557.23 481.89,557.88 482.26,508.89 482.62,559.17 482.99,541.65 483.36,559.67 483.73,550.38 484.10,558.24 484.47,545.92 484.84,553.10 485.20,547.23 485.57,559.77 485.94,543.54 486.31,551.46 486.68,562.05 487.05,531.88 487.42,544.01 487.79,563.21 488.15,545.98 488.52,559.12 488.89,542.30 489.26,552.82 489.63,552.30 490.00,552.47 490.37,550.16 490.73,553.79 491.10,544.06 491.47,553.67 491.84,551.25 492.21,544.35 492.58,546.62 492.95,554.80 493.32,550.85 493.68,562.87 494.05,551.61 494.42,539.30 494.79,563.50 495.16,561.55 495.53,560.73 495.90,560.62 496.27,546.35 496.63,553.40 497.00,546.39 497.37,554.26 497.74,551.06 498.11,553.87 498.48,546.91 498.85,553.57 499.21,548.46 499.58,553.14 499.95,545.83 500.32,560.48 500.69,562.47 501.06,559.10 501.43,553.17 501.80,561.47 502.16,551.50 502.53,550.55 502.90,550.76 503.27,561.85 503.64,559.26 504.01,561.87 504.38,551.07 504.75,538.56 505.11,561.47 505.48,560.95 505.85,551.29 506.22,559.57 506.59,546.89 506.96,561.48 507.33,551.37 507.69,557.09 508.06,558.78 508.43,548.15 508.80,539.30 509.17,563.58 509.54,553.09 509.91,550.50 510.28,551.72 510.64,562.65 511.01,551.28 511.38,559.72 511.75,548.59 512.12,556.67 512.49,546.94 512.86,560.40 513.22,547.74 513.59,554.59 513.96,546.64 514.33,560.76 514.70,558.12 515.07,560.44 515.44,544.61 515.81,559.03 516.17,560.94 516.54,560.03 516.91,547.78 517.28,554.20 517.65,549.32 518.02,561.14 518.39,548.06 518.76,553.64 519.12,545.33 519.49,562.90 519.86,531.88 520.23,544.28 520.60,559.03 520.97,560.53 521.34,546.33 521.70,514.08 522.07,546.82 522.44,559.65 522.81,549.65 523.18,560.10 523.55,545.31 523.92,560.08 524.29,548.20 524.65,563.09 525.02,548.38 525.39,560.70 525.76,551.85 526.13,553.55 526.50,551.37 526.87,558.91 527.23,555.90 527.60,558.67 527.97,549.52 528.34,555.64 528.71,558.88 529.08,563.62 529.45,546.26 529.82,556.05 530.18,545.57 530.55,563.79 530.92,550.79 531.29,563.23 531.66,558.99 532.03,562.07 532.40,548.89 532.77,547.38 533.13,550.58 533.50,562.51 533.87,541.52 534.24,547.72 534.61,561.23 534.98,556.00 535.35,552.38 535.71,557.02 536.08,551.01 536.45,555.29 536.82,548.07 537.19,555.55 537.56,546.92 537.93,556.02 538.30,545.95 538.66,561.32 539.03,559.78 539.40,551.32 539.77,538.56 540.14,563.29 540.51,547.75 540.88,558.71 541.25,552.43 541.61,557.74 541.98,547.94 542.35,559.16 542.72,553.44 543.09,558.40 543.46,549.51 543.83,559.49 544.19,552.88 544.56,558.64 544.93,547.58 545.30,560.25 545.67,554.26 546.04,560.45 546.41,552.22 546.78,557.70 547.14,549.25 547.51,563.63 547.88,549.27 548.25,563.42 548.62,551.89 548.99,543.01 549.36,563.74 549.72,556.87 550.09,552.68 550.46,558.62 550.83,545.49 551.20,556.99 551.57,547.75 551.94,550.35 552.31,544.13 552.67,560.18 553.04,559.45 553.41,532.62 553.78,539.97 554.15,559.29 554.52,558.70 554.89,559.19 555.26,563.27 555.62,557.45 555.99,548.79 556.36,561.66 556.73,555.34 557.10,559.91 557.47,550.96 557.84,562.00 558.20,545.15 558.57,544.65 558.94,543.70 559.31,563.28 559.68,551.45 560.05,563.55 560.42,551.56 560.79,537.82 561.15,561.77 561.52,559.23 561.89,550.19 562.26,556.09 562.63,547.96 563.00,555.12 563.37,549.62 563.74,555.56 564.10,544.10 564.47,551.51 564.84,548.68 565.21,512.60 565.58,550.09 565.95,554.26 566.32,541.59 566.68,562.37 567.05,544.89 567.42,560.48 567.79,546.21 568.16,560.23 568.53,546.97 568.90,547.32 569.27,558.46 569.63,547.83 570.00,530.40 570.37,561.89 570.74,547.52 571.11,547.08 571.48,547.48 571.85,547.99 572.21,562.67 572.58,560.11 572.95,542.19 573.32,534.11 573.69,557.62 574.06,563.17 574.43,557.76 574.80,560.96 575.16,563.01 575.53,551.45 575.90,544.43 576.27,553.00 576.64,547.79 577.01,561.95 577.38,561.71 577.75,563.60 578.11,553.75 578.48,559.58 578.85,553.26 579.22,541.52 579.59,560.32 579.96,557.76 580.33,550.43 580.69,562.74 581.06,548.86 581.43,559.21 581.80,549.90 582.17,563.99 582.54,549.38 582.91,559.79 583.28,554.02 583.64,560.63 584.01,555.80 584.38,562.25 584.75,549.84 585.12,559.97 585.49,550.20 585.86,556.04 586.22,561.04 586.59,545.23 586.96,550.57 587.33,562.67 587.70,553.23 588.07,564.02 588.44,554.62 588.81,564.02 589.17,554.30 589.54,559.39 589.91,554.65 590.28,564.34 590.65,552.26 591.02,547.46 591.39,561.15 591.76,562.77 592.12,554.28 592.49,560.50 592.86,550.62 593.23,556.84 593.60,551.98 593.97,554.66 594.34,550.07 594.70,555.60 595.07,546.18 595.44,562.47 595.81,536.33 596.18,550.41 596.55,562.87 596.92,561.04 597.29,546.95 597.65,557.55 598.02,557.46 598.39,557.65 598.76,557.63 599.13,557.79 599.50,544.80 599.87,547.01 600.24,546.35 600.60,557.87 600.97,563.49 601.34,551.68 601.71,539.30 602.08,560.34 602.45,546.34 602.82,545.35 603.18,552.99 603.55,554.33 603.92,558.05 604.29,561.00 604.66,545.73 605.03,536.33 605.40,560.77 605.77,556.20 606.13,552.06 606.50,555.23 606.87,547.92 607.24,555.12 607.61,561.26 607.98,559.44 608.35,544.88 608.71,549.31 609.08,486.64 609.45,556.76 609.82,550.90 610.19,552.61 610.56,552.48 610.93,550.39 611.30,547.53 611.66,550.76 612.03,546.83 612.40,562.29 612.77,550.26 613.14,561.12 613.51,540.46 613.88,533.37 614.25,559.40 614.61,558.14 614.98,548.86 615.35,557.78 615.72,546.85 616.09,557.64 616.46,562.70 616.83,543.75 617.19,551.06 617.56,563.14 617.93,554.88 618.30,549.46 618.67,550.94 619.04,553.85 619.41,557.94 619.78,553.94 620.14,563.16 620.51,556.26 620.88,553.91 621.25,557.11 621.62,562.59 621.99,545.23 622.36,551.76 622.73,563.94 623.09,549.97 623.46,562.42 623.83,563.74 624.20,558.04 624.57,554.53 624.94,561.93 625.31,549.91 625.67,550.68 626.04,553.48 626.41,556.06 626.78,556.24 627.15,563.99 627.52,543.75 627.89,554.33 628.26,561.83 628.62,553.49 628.99,553.49 629.36,556.89 629.73,554.84 630.10,563.50 630.47,561.18 630.84,562.29 631.20,552.10 631.57,548.20 631.94,564.33 632.31,562.27 632.68,553.31 633.05,564.04 633.42,553.02 633.79,555.66 634.15,556.02 634.52,556.62 634.89,553.76 635.26,556.02 635.63,555.13 636.00,555.27 636.37,552.83 636.74,555.40 637.10,555.29 637.47,559.97 637.84,554.29 638.21,560.17 638.58,552.88 638.95,557.48 639.32,550.26 639.68,551.78 640.05,552.40 640.42,556.80 640.79,549.83 641.16,563.17 641.53,549.92 641.90,556.07 642.27,563.26 642.63,552.74 643.00,540.78 643.37,562.07 643.74,546.64 644.11,550.55 644.48,550.93 644.85,553.44 645.21,547.69 645.58,560.61 645.95,548.74 646.32,562.87 646.69,546.72 647.06,558.07 647.43,545.79 647.80,553.80 648.16,558.73 648.53,535.59 648.90,542.19 649.27,559.45 649.64,545.72 650.01,555.84 650.38,544.18 650.75,554.77 651.11,547.50 651.48,556.43 651.85,546.70 652.22,560.87 652.59,545.58 652.96,491.83 653.33,545.09 653.69,563.06 654.06,547.71 654.43,552.78 654.80,549.31 655.17,562.41 655.54,548.33 655.91,555.48 656.28,548.89 656.64,556.61 657.01,559.28 657.38,540.04 657.75,549.81 658.12,559.75 658.49,548.49 658.86,556.08 659.23,548.46 659.59,557.88 659.96,558.77 660.33,555.86 660.70,546.61 661.07,552.92 661.44,550.85 661.81,553.02 662.17,553.87 662.54,560.64 662.91,549.47 663.28,540.04 663.65,559.77 664.02,554.73 664.39,553.50 664.76,553.85 665.12,556.45 665.49,558.75 665.86,550.30 666.23,553.05 666.60,551.28 666.97,558.97 667.34,549.78 667.70,563.82 668.07,554.58 668.44,562.38 668.81,546.72 669.18,550.75 669.55,560.48 669.92,561.80 670.29,552.90 670.65,561.77 671.02,555.99 671.39,555.59 671.76,562.26 672.13,544.49 672.50,553.57 672.87,562.91 673.24,551.99 673.60,561.73 673.97,555.66 674.34,563.92 674.71,555.18 675.08,556.83 675.45,556.63 675.82,556.00 676.18,563.13 676.55,554.92 676.92,548.20 677.29,563.88 677.66,552.06 678.03,559.16 678.40,551.52 678.77,560.81 679.13,539.30 679.50,547.03 679.87,562.13 680.24,555.43 680.61,549.24 680.98,555.21 681.35,555.33 681.72,555.47 682.08,553.95 682.45,555.72 682.82,563.30 683.19,548.20 683.56,555.07 683.93,562.78 684.30,556.09 684.66,561.97 685.03,563.22 685.40,563.64 685.77,552.40 686.14,561.15 686.51,553.07 686.88,561.16 687.25,564.28 687.61,562.55 687.98,561.07 688.35,561.15 688.72,553.21 689.09,544.49 689.46,561.13 689.83,555.14 690.19,550.14 690.56,555.30 690.93,553.46 691.30,554.79 691.67,550.75 692.04,564.05 692.41,551.54 692.78,558.55 693.14,552.71 693.51,560.70 693.88,553.76 694.25,555.48 694.62,553.83 694.99,557.99 695.36,550.96 695.73,551.30 696.09,552.44 696.46,558.35 696.83,529.66 697.20,560.77 697.57,550.05 697.94,559.69 698.31,551.77 698.67,560.71 699.04,555.26 699.41,561.85 699.78,551.52 700.15,560.53 700.52,555.13 700.89,563.05 701.26,548.28 701.62,543.01 701.99,562.03 702.36,555.64 702.73,550.63 703.10,551.98 703.47,552.85 703.84,556.19 704.20,554.82 704.57,562.74 704.94,549.72 705.31,544.49 705.68,562.13 706.05,563.35 706.42,563.55 706.79,560.09 707.15,551.64 707.52,556.27 707.89,554.18 708.26,560.59 708.63,550.53 709.00,541.52 709.37,559.82 709.74,561.99 710.10,552.57 710.47,560.66 710.84,554.03 711.21,556.99 711.58,549.69 711.95,561.64 712.32,554.17 712.68,561.04 713.05,551.08 713.42,562.39 713.79,556.21 714.16,564.30 714.53,553.06 714.90,562.92 715.27,551.51 715.63,563.06 716.00,556.23 716.37,548.20 716.74,562.30 717.11,556.40 717.48,556.64 717.85,557.11 718.22,556.45 718.58,557.02 718.95,555.67 719.32,556.56 719.69,562.21 720.06,544.49 720.43,553.19 720.80,561.48 721.16,555.22 721.53,563.54 721.90,553.49 722.27,562.98 722.64,549.09 723.01,563.84 723.38,552.24 723.75,562.14 724.11,543.01 724.48,552.46 724.85,561.74 725.22,561.25 725.59,555.43 725.96,561.17 726.33,544.49 726.69,553.43 727.06,562.96 727.43,564.02 727.80,551.63 728.17,554.38 728.54,555.38 728.91,554.58 729.28,554.99 729.64,561.64 730.01,551.26 730.38,561.42 730.75,552.54 731.12,562.77 731.49,554.86 731.86,555.80 732.23,548.48 732.59,563.79 732.96,554.39 733.33,562.87 733.70,547.37 734.07,558.33 734.44,551.58 734.81,557.22 735.17,546.85 735.54,557.86 735.91,549.75 736.28,559.57 736.65,552.08 737.02,539.30 737.39,559.13 737.76,563.47 738.12,553.90 738.49,559.32 738.86,553.81 739.23,560.72 739.60,548.09 739.97,560.35 740.34,560.02 740.71,542.27 741.07,547.11 741.44,561.81 741.81,555.29 742.18,561.28 742.55,543.75 742.92,552.85 743.29,563.26 743.65,554.30 744.02,556.65 744.39,556.76 744.76,553.53 745.13,556.80 745.50,551.32 745.87,557.18 746.24,551.88 746.60,557.22 746.97,551.79 747.34,558.78 747.71,554.36 748.08,561.02 748.45,562.58 748.82,556.05 749.18,548.20 749.55,564.00 749.92,555.90 750.29,556.02 750.66,555.85 751.03,556.60 751.40,554.60 751.77,555.99 752.13,561.39 752.50,551.29 752.87,545.23 753.24,563.02 753.61,553.51 753.98,563.10 754.35,551.23 754.72,553.07 755.08,552.19 755.45,564.03 755.82,552.68 756.19,554.20 756.56,555.13 756.93,563.92 757.30,552.09 757.66,548.20 758.03,561.44 758.40,559.15 758.77,555.86 759.14,559.61 759.51,557.46 759.88,562.98 760.25,557.67 760.61,563.40 760.98,557.87 761.35,561.74 761.72,563.04 762.09,563.21 762.46,553.88 762.83,563.45 763.19,549.68 763.56,555.03 763.93,563.54 764.30,563.48 764.67,554.06 765.04,564.55 765.41,556.27 765.78,554.95 766.14,562.08 766.51,554.80 766.88,548.94 767.25,564.57 767.62,556.92 767.99,560.06 768.36,554.36 768.73,562.36 769.09,557.78 769.46,564.09 769.83,556.77 770.20,562.70" fill="none" stroke="#0072BD" stroke-width="2.0" stroke-linejoin="bevel"/>
<rect x="180.3" y="343.5" width="589.9000000000001" height="222.5" fill="none" stroke="#262626" stroke-width="1.7"/>
<text class="t" transform="translate(179.10,598.00) scale(1,1.09)" text-anchor="middle">0</text>
<text class="t" transform="translate(326.58,598.00) scale(1,1.09)" text-anchor="middle">100</text>
<text class="t" transform="translate(474.05,598.00) scale(1,1.09)" text-anchor="middle">200</text>
<text class="t" transform="translate(621.53,598.00) scale(1,1.09)" text-anchor="middle">300</text>
<text class="t" transform="translate(769.00,598.00) scale(1,1.09)" text-anchor="middle">400</text>
<text class="t" transform="translate(172.00,575.50) scale(1,1.09)" text-anchor="end">0</text>
<text class="t" transform="translate(172.00,501.33) scale(1,1.09)" text-anchor="end">1</text>
<text class="t" transform="translate(172.00,427.17) scale(1,1.09)" text-anchor="end">2</text>
<text class="t" transform="translate(172.00,353.00) scale(1,1.09)" text-anchor="end">3</text>
<path d="M183.50,325.90l11.0,11.0M194.50,325.90l-11.0,11.0" stroke="#262626" stroke-width="1.5" fill="none"/>
<text class="t" transform="translate(199.60,337.00) scale(1,1.09)">10<tspan dx="1.6" dy="-9.8" style="font-size:17px">-3</tspan></text>
<text class="t" style="font-size:25.8px" transform="translate(147,455.25) rotate(-90)" text-anchor="middle" textLength="201" xml:space="preserve">Amplitude  (m<tspan dy="-12" style="font-size:18px">2</tspan><tspan dy="12">/s)</tspan></text>
<g font-family="Liberation Serif, serif" fill="#000"><text transform="translate(9.90,491.80) scale(0.9,1)" font-size="36">(</text><text x="20.90" y="490.50" font-size="33" font-weight="bold">b</text><text transform="translate(41.20,491.80) scale(0.9,1)" font-size="36">)</text></g>
<line x1="336.5" y1="450.6" x2="324.3" y2="467.7" stroke="#000" stroke-width="2.0"/>
<polygon points="314.4,484.6 320.9,456.8 324.3,467.7 337.6,467.9" fill="#000" stroke="#000" stroke-width="0.8" stroke-linejoin="round"/>
<path d="M180.30,868.0v-6M180.30,647.0v6M327.78,868.0v-6M327.78,647.0v6M475.25,868.0v-6M475.25,647.0v6M622.73,868.0v-6M622.73,647.0v6M770.20,868.0v-6M770.20,647.0v6M180.3,868.00h6M770.2,868.00h-6M180.3,813.38h6M770.2,813.38h-6M180.3,758.75h6M770.2,758.75h-6M180.3,704.12h6M770.2,704.12h-6M180.3,649.50h6M770.2,649.50h-6" stroke="#262626" stroke-width="1.6" fill="none"/>
<clipPath id="c2"><rect x="180.3" y="647.0" width="589.9000000000001" height="221.0"/></clipPath>
<polyline clip-path="url(#c2)" points="180.30,741.82 180.67,741.82 181.04,745.09 181.41,750.56 181.77,775.14 182.14,758.75 182.51,788.79 182.88,772.41 183.25,843.52 183.62,843.91 183.99,799.41 184.36,799.41 184.72,809.50 185.09,839.35 185.46,850.45 185.83,835.85 186.20,847.64 186.57,836.83 186.94,853.50 187.31,846.91 187.67,835.63 188.04,860.55 188.41,845.19 188.78,825.39 189.15,857.57 189.52,847.52 189.89,839.21 190.25,844.58 190.62,855.55 190.99,840.80 191.36,849.25 191.73,846.85 192.10,854.23 192.47,839.05 192.84,860.77 193.20,836.99 193.57,854.90 193.94,821.57 194.31,842.61 194.68,853.44 195.05,852.96 195.42,835.73 195.78,856.13 196.15,853.40 196.52,847.72 196.89,827.85 197.26,855.28 197.63,838.32 198.00,857.23 198.37,843.59 198.73,860.28 199.10,837.75 199.47,854.98 199.84,838.45 200.21,853.24 200.58,844.83 200.95,854.46 201.32,853.29 201.68,818.29 202.05,830.26 202.42,854.58 202.79,838.26 203.16,835.45 203.53,846.55 203.90,853.87 204.26,844.89 204.63,856.36 205.00,845.01 205.37,861.14 205.74,857.48 206.11,858.03 206.48,842.67 206.85,860.88 207.21,850.66 207.58,860.78 207.95,840.69 208.32,849.27 208.69,858.09 209.06,859.90 209.43,842.03 209.80,850.99 210.16,829.99 210.53,849.75 210.90,806.55 211.27,823.46 211.64,851.37 212.01,839.52 212.38,828.39 212.74,791.90 213.11,789.82 213.48,755.75 213.85,773.86 214.22,837.23 214.59,799.98 214.96,805.90 215.33,807.25 215.69,833.62 216.06,828.56 216.43,832.57 216.80,829.50 217.17,827.88 217.54,823.73 217.91,827.11 218.27,814.51 218.64,826.00 219.01,845.27 219.38,821.86 219.75,792.62 220.12,852.22 220.49,826.38 220.86,830.98 221.22,820.10 221.59,828.47 221.96,829.23 222.33,831.13 222.70,814.18 223.07,827.90 223.44,828.31 223.81,854.46 224.17,666.16 224.54,843.21 224.91,817.48 225.28,851.69 225.65,819.21 226.02,842.31 226.39,828.90 226.75,829.57 227.12,836.52 227.49,847.72 227.86,828.23 228.23,852.86 228.60,802.18 228.97,832.47 229.34,857.75 229.70,848.47 230.07,831.83 230.44,851.96 230.81,844.24 231.18,831.67 231.55,859.71 231.92,846.04 232.28,845.30 232.65,847.16 233.02,844.21 233.39,858.54 233.76,841.51 234.13,818.56 234.50,854.96 234.87,856.35 235.23,837.75 235.60,860.46 235.97,840.04 236.34,829.22 236.71,857.14 237.08,849.13 237.45,850.07 237.82,852.23 238.18,846.30 238.55,853.83 238.92,849.19 239.29,852.19 239.66,863.62 240.03,846.15 240.40,851.37 240.76,862.14 241.13,852.45 241.50,859.01 241.87,851.43 242.24,852.15 242.61,855.05 242.98,862.64 243.35,850.33 243.71,862.60 244.08,862.16 244.45,839.32 244.82,847.06 245.19,861.88 245.56,848.70 245.93,854.03 246.30,846.94 246.66,856.67 247.03,828.52 247.40,851.29 247.77,797.53 248.14,851.90 248.51,842.94 248.88,832.53 249.24,842.14 249.61,859.69 249.98,827.85 250.35,844.41 250.72,858.92 251.09,854.39 251.46,845.61 251.83,862.00 252.19,855.14 252.56,861.31 252.93,855.91 253.30,857.48 253.67,846.19 254.04,860.97 254.41,844.76 254.77,855.77 255.14,862.15 255.51,845.63 255.88,836.04 256.25,859.00 256.62,852.67 256.99,855.36 257.36,856.46 257.72,856.30 258.09,849.45 258.46,856.80 258.83,849.56 259.20,862.32 259.57,851.02 259.94,836.59 260.31,858.08 260.67,851.48 261.04,847.15 261.41,851.02 261.78,860.06 262.15,859.76 262.52,829.52 262.89,854.92 263.25,830.12 263.62,801.90 263.99,852.56 264.36,849.68 264.73,824.34 265.10,834.04 265.47,830.24 265.84,818.37 266.20,818.11 266.57,845.94 266.94,837.05 267.31,824.77 267.68,848.78 268.05,796.99 268.42,822.72 268.79,850.11 269.15,840.37 269.52,845.95 269.89,843.17 270.26,856.33 270.63,844.24 271.00,857.16 271.37,830.31 271.73,848.65 272.10,858.75 272.47,856.16 272.84,840.96 273.21,860.36 273.58,847.12 273.95,861.63 274.32,848.34 274.68,833.04 275.05,857.52 275.42,858.90 275.79,849.49 276.16,857.85 276.53,850.88 276.90,853.05 277.26,846.03 277.63,863.42 278.00,852.75 278.37,862.67 278.74,850.56 279.11,862.71 279.48,849.24 279.85,841.78 280.21,862.61 280.58,863.09 280.95,849.56 281.32,863.03 281.69,850.26 282.06,859.92 282.43,847.56 282.80,858.74 283.16,847.57 283.53,859.65 283.90,837.41 284.27,843.80 284.64,859.92 285.01,859.97 285.38,852.76 285.74,863.34 286.11,853.36 286.48,856.87 286.85,848.41 287.22,859.06 287.59,848.39 287.96,838.50 288.33,862.75 288.69,859.68 289.06,863.19 289.43,854.33 289.80,861.08 290.17,848.72 290.54,842.87 290.91,863.43 291.27,856.05 291.64,861.81 292.01,856.41 292.38,862.65 292.75,858.69 293.12,854.34 293.49,863.15 293.86,857.01 294.22,856.06 294.59,855.67 294.96,855.48 295.33,855.88 295.70,849.05 296.07,853.87 296.44,848.37 296.81,860.84 297.17,861.36 297.54,840.71 297.91,832.22 298.28,856.25 298.65,847.47 299.02,847.63 299.39,849.80 299.75,847.19 300.12,838.83 300.49,846.86 300.86,837.32 301.23,848.05 301.60,836.29 301.97,854.74 302.34,825.67 302.70,833.66 303.07,860.35 303.44,842.49 303.81,843.37 304.18,846.63 304.55,837.17 304.92,852.02 305.29,839.86 305.65,850.16 306.02,846.50 306.39,834.11 306.76,838.57 307.13,786.06 307.50,844.23 307.87,855.55 308.23,837.70 308.60,838.32 308.97,842.22 309.34,859.67 309.71,854.94 310.08,861.15 310.45,840.06 310.82,859.29 311.18,844.20 311.55,856.59 311.92,842.02 312.29,859.71 312.66,841.84 313.03,856.59 313.40,846.11 313.76,852.32 314.13,853.05 314.50,823.48 314.87,839.45 315.24,857.17 315.61,841.54 315.98,842.30 316.35,851.34 316.71,852.66 317.08,837.55 317.45,820.20 317.82,859.48 318.19,837.08 318.56,816.65 318.93,854.94 319.30,835.21 319.66,845.31 320.03,840.57 320.40,843.77 320.77,840.15 321.14,852.77 321.51,841.33 321.88,860.85 322.24,839.17 322.61,859.36 322.98,826.76 323.35,839.21 323.72,855.63 324.09,847.85 324.46,847.45 324.83,860.40 325.19,843.85 325.56,861.62 325.93,841.92 326.30,858.46 326.67,842.98 327.04,860.95 327.41,849.04 327.78,860.79 328.14,839.32 328.51,845.19 328.88,858.66 329.25,861.26 329.62,860.15 329.99,851.38 330.36,850.62 330.72,855.01 331.09,859.75 331.46,833.44 331.83,824.30 332.20,859.68 332.57,861.02 332.94,850.92 333.31,856.03 333.67,856.96 334.04,851.28 334.41,862.69 334.78,861.06 335.15,855.26 335.52,859.65 335.89,860.76 336.25,844.24 336.62,849.41 336.99,863.44 337.36,862.89 337.73,849.39 338.10,862.53 338.47,854.88 338.84,857.80 339.20,851.93 339.57,858.44 339.94,847.25 340.31,847.54 340.68,850.77 341.05,861.97 341.42,848.52 341.79,835.50 342.15,860.43 342.52,858.18 342.89,857.70 343.26,856.08 343.63,855.42 344.00,856.11 344.37,837.03 344.73,839.93 345.10,834.95 345.47,846.32 345.84,854.13 346.21,814.74 346.58,829.08 346.95,857.24 347.32,825.46 347.68,839.54 348.05,832.96 348.42,827.63 348.79,829.03 349.16,852.00 349.53,826.88 349.90,793.98 350.26,805.18 350.63,806.55 351.00,810.29 351.37,813.18 351.74,854.27 352.11,856.52 352.48,812.83 352.85,838.82 353.21,855.61 353.58,831.85 353.95,833.19 354.32,858.04 354.69,826.76 355.06,814.19 355.43,854.59 355.80,855.52 356.16,836.27 356.53,846.02 356.90,837.04 357.27,846.44 357.64,835.49 358.01,844.90 358.38,837.11 358.74,847.99 359.11,837.38 359.48,862.00 359.85,849.79 360.22,855.82 360.59,857.58 360.96,858.53 361.33,835.50 361.69,850.70 362.06,857.80 362.43,856.43 362.80,849.90 363.17,855.04 363.54,844.47 363.91,855.37 364.28,842.75 364.64,862.29 365.01,828.67 365.38,845.67 365.75,829.76 366.12,851.32 366.49,843.25 366.86,857.88 367.22,841.67 367.59,833.04 367.96,859.02 368.33,852.93 368.70,848.50 369.07,859.40 369.44,849.67 369.81,858.46 370.17,846.76 370.54,860.28 370.91,844.60 371.28,858.94 371.65,845.71 372.02,861.00 372.39,852.62 372.75,839.32 373.12,858.53 373.49,858.22 373.86,862.97 374.23,861.19 374.60,844.38 374.97,849.87 375.34,846.82 375.70,855.21 376.07,848.40 376.44,861.68 376.81,861.30 377.18,845.66 377.55,828.67 377.92,861.14 378.29,847.21 378.65,851.53 379.02,853.42 379.39,850.72 379.76,837.26 380.13,853.73 380.50,831.33 380.87,815.29 381.23,815.29 381.60,829.37 381.97,854.55 382.34,836.12 382.71,823.48 383.08,858.80 383.45,839.27 383.82,843.11 384.18,839.51 384.55,850.20 384.92,843.34 385.29,850.91 385.66,855.39 386.03,834.13 386.40,847.67 386.77,860.26 387.13,841.70 387.50,851.11 387.87,847.75 388.24,861.43 388.61,847.23 388.98,850.16 389.35,861.65 389.71,831.67 390.08,842.33 390.45,860.56 390.82,844.99 391.19,849.75 391.56,848.23 391.93,850.15 392.30,847.27 392.66,848.46 393.03,842.93 393.40,861.28 393.77,840.27 394.14,774.04 394.51,853.06 394.88,857.35 395.24,840.41 395.61,862.09 395.98,839.66 396.35,839.32 396.72,849.22 397.09,856.48 397.46,847.42 397.83,856.34 398.19,842.87 398.56,858.72 398.93,828.94 399.30,848.33 399.67,857.34 400.04,862.42 400.41,861.24 400.78,858.28 401.14,862.39 401.51,843.43 401.88,836.59 402.25,863.14 402.62,845.47 402.99,860.40 403.36,854.45 403.72,855.10 404.09,851.85 404.46,854.57 404.83,853.97 405.20,861.76 405.57,849.09 405.94,839.32 406.31,863.20 406.67,856.33 407.04,853.12 407.41,859.02 407.78,862.69 408.15,842.87 408.52,852.78 408.89,862.47 409.25,851.19 409.62,847.33 409.99,852.57 410.36,854.33 410.73,849.75 411.10,852.67 411.47,849.37 411.84,852.19 412.20,850.18 412.57,854.03 412.94,846.12 413.31,860.42 413.68,851.49 414.05,857.68 414.42,861.87 414.79,835.50 415.15,844.33 415.52,859.14 415.89,843.03 416.26,859.29 416.63,829.49 417.00,838.58 417.37,861.17 417.73,852.57 418.10,848.45 418.47,859.80 418.84,851.68 419.21,862.50 419.58,847.07 419.95,852.32 420.32,846.84 420.68,857.99 421.05,856.39 421.42,856.81 421.79,859.77 422.16,861.11 422.53,848.36 422.90,862.85 423.27,849.96 423.63,842.87 424.00,863.80 424.37,859.00 424.74,850.19 425.11,860.49 425.48,852.67 425.85,861.12 426.21,852.08 426.58,841.51 426.95,862.19 427.32,854.49 427.69,852.10 428.06,861.76 428.43,855.68 428.80,863.03 429.16,853.78 429.53,854.81 429.90,852.08 430.27,863.29 430.64,851.76 431.01,842.33 431.38,861.56 431.74,858.62 432.11,846.68 432.48,852.82 432.85,855.71 433.22,821.57 433.59,839.35 433.96,855.57 434.33,845.21 434.69,855.00 435.06,840.38 435.43,858.40 435.80,844.24 436.17,859.61 436.54,845.43 436.91,860.28 437.28,847.96 437.64,859.33 438.01,799.99 438.38,856.57 438.75,851.60 439.12,857.75 439.49,853.26 439.86,851.43 440.22,851.32 440.59,860.89 440.96,847.54 441.33,857.89 441.70,851.23 442.07,863.02 442.44,843.69 442.81,849.07 443.17,864.14 443.54,859.33 443.91,854.18 444.28,864.08 444.65,856.24 445.02,862.75 445.39,855.35 445.76,862.70 446.12,851.40 446.49,847.24 446.86,861.20 447.23,859.85 447.60,859.08 447.97,860.03 448.34,848.60 448.70,834.13 449.07,863.39 449.44,862.57 449.81,852.60 450.18,860.67 450.55,849.41 450.92,862.85 451.29,854.44 451.65,852.01 452.02,854.25 452.39,857.96 452.76,864.83 453.13,850.52 453.50,856.76 453.87,862.67 454.23,857.32 454.60,863.59 454.97,858.51 455.34,864.00 455.71,856.08 456.08,857.84 456.45,862.07 456.82,848.61 457.18,858.15 457.55,862.40 457.92,863.80 458.29,857.68 458.66,853.89 459.03,864.19 459.40,858.12 459.77,859.78 460.13,854.28 460.50,860.15 460.87,856.31 461.24,851.96 461.61,850.75 461.98,860.38 462.35,859.31 462.71,859.98 463.08,864.05 463.45,850.07 463.82,842.87 464.19,862.31 464.56,854.71 464.93,854.77 465.30,851.37 465.66,860.88 466.03,850.89 466.40,861.84 466.77,848.82 467.14,850.76 467.51,861.27 467.88,844.72 468.24,837.41 468.61,858.89 468.98,851.82 469.35,855.90 469.72,848.46 470.09,855.55 470.46,862.86 470.83,841.78 471.19,850.90 471.56,859.28 471.93,847.46 472.30,860.82 472.67,854.34 473.04,858.93 473.41,847.82 473.78,858.83 474.14,858.88 474.51,840.41 474.88,851.85 475.25,863.62 475.62,849.89 475.99,854.84 476.36,854.49 476.72,854.96 477.09,811.74 477.46,855.56 477.83,850.29 478.20,854.91 478.57,849.98 478.94,862.76 479.31,853.20 479.67,860.10 480.04,850.68 480.41,863.80 480.78,855.83 481.15,861.19 481.52,810.92 481.89,854.69 482.26,861.41 482.62,863.31 482.99,856.65 483.36,855.03 483.73,855.49 484.10,857.58 484.47,851.58 484.84,858.22 485.20,850.46 485.57,863.33 485.94,856.58 486.31,845.60 486.68,862.22 487.05,859.92 487.42,860.69 487.79,859.35 488.15,861.27 488.52,863.06 488.89,858.53 489.26,837.14 489.63,850.50 490.00,863.34 490.37,847.66 490.73,862.43 491.10,847.04 491.47,858.59 491.84,845.61 492.21,853.20 492.58,845.90 492.95,853.27 493.32,853.29 493.68,856.54 494.05,853.59 494.42,857.65 494.79,850.18 495.16,860.87 495.53,848.85 495.90,840.14 496.27,858.43 496.63,858.59 497.00,847.76 497.37,851.41 497.74,850.56 498.11,856.28 498.48,854.05 498.85,857.56 499.21,852.88 499.58,856.30 499.95,850.90 500.32,853.25 500.69,847.64 501.06,851.29 501.43,850.88 501.80,850.54 502.16,845.95 502.53,856.70 502.90,861.82 503.27,834.68 503.64,843.51 504.01,863.17 504.38,847.85 504.75,858.95 505.11,854.26 505.48,862.60 505.85,853.10 506.22,862.66 506.59,859.48 506.96,850.50 507.33,842.33 507.69,863.05 508.06,855.32 508.43,860.01 508.80,848.57 509.17,859.47 509.54,851.05 509.91,862.45 510.28,861.75 510.64,862.32 511.01,851.11 511.38,859.51 511.75,854.98 512.12,863.71 512.49,851.78 512.86,854.14 513.22,852.88 513.59,851.87 513.96,848.92 514.33,856.80 514.70,853.66 515.07,862.58 515.44,854.83 515.81,843.69 516.17,859.56 516.54,857.85 516.91,849.49 517.28,856.22 517.65,857.40 518.02,834.13 518.39,841.04 518.76,857.92 519.12,851.90 519.49,857.29 519.86,846.71 520.23,857.73 520.60,852.61 520.97,792.62 521.34,850.06 521.70,858.95 522.07,843.98 522.44,860.39 522.81,861.78 523.18,839.32 523.55,846.47 523.92,861.55 524.29,849.04 524.65,862.13 525.02,833.63 525.39,822.39 525.76,854.13 526.13,860.70 526.50,845.15 526.87,848.40 527.23,841.87 527.60,849.07 527.97,849.67 528.34,851.41 528.71,842.79 529.08,859.13 529.45,849.88 529.82,862.26 530.18,851.09 530.55,858.85 530.92,847.89 531.29,857.07 531.66,848.94 532.03,860.62 532.40,864.29 532.77,846.42 533.13,854.67 533.50,864.19 533.87,851.99 534.24,860.75 534.61,849.81 534.98,862.44 535.35,850.95 535.71,857.12 536.08,850.12 536.45,859.96 536.82,851.15 537.19,848.87 537.56,861.24 537.93,840.41 538.30,853.73 538.66,860.84 539.03,850.64 539.40,858.38 539.77,853.06 540.14,860.23 540.51,849.51 540.88,858.42 541.25,852.03 541.61,861.09 541.98,853.35 542.35,860.70 542.72,852.51 543.09,841.78 543.46,863.54 543.83,858.22 544.19,855.90 544.56,855.39 544.93,850.95 545.30,858.84 545.67,850.06 546.04,857.18 546.41,852.75 546.78,861.11 547.14,855.01 547.51,854.17 547.88,848.66 548.25,856.35 548.62,861.10 548.99,842.33 549.36,852.75 549.72,863.11 550.09,850.51 550.46,854.41 550.83,852.99 551.20,852.08 551.57,848.86 551.94,862.82 552.31,855.35 552.67,855.11 553.04,850.02 553.41,859.81 553.78,848.73 554.15,863.01 554.52,855.41 554.89,863.44 555.26,853.92 555.62,842.33 555.99,860.95 556.36,856.11 556.73,851.94 557.10,858.16 557.47,847.69 557.84,856.10 558.20,850.74 558.57,853.14 558.94,859.47 559.31,852.59 559.68,839.60 560.05,859.23 560.42,850.59 560.79,861.77 561.15,847.39 561.52,858.17 561.89,853.64 562.26,860.98 562.63,851.56 563.00,863.65 563.37,854.70 563.74,860.99 564.10,849.02 564.47,822.66 564.84,863.77 565.21,848.73 565.58,853.38 565.95,851.59 566.32,855.93 566.68,858.66 567.05,854.88 567.42,857.81 567.79,855.77 568.16,860.16 568.53,850.60 568.90,844.24 569.27,860.16 569.63,861.57 570.00,855.89 570.37,860.48 570.74,853.48 571.11,863.49 571.48,863.41 571.85,859.38 572.21,857.32 572.58,860.94 572.95,848.44 573.32,842.60 573.69,859.51 574.06,850.45 574.43,850.99 574.80,856.75 575.16,850.43 575.53,859.50 575.90,860.42 576.27,859.76 576.64,855.71 577.01,859.56 577.38,849.42 577.75,850.24 578.11,849.81 578.48,859.99 578.85,856.20 579.22,850.87 579.59,853.69 579.96,861.78 580.33,856.98 580.69,860.06 581.06,857.11 581.43,864.51 581.80,843.97 582.17,852.95 582.54,861.89 582.91,859.47 583.28,856.91 583.64,859.76 584.01,854.18 584.38,862.26 584.75,856.76 585.12,851.07 585.49,865.28 585.86,860.81 586.22,854.83 586.59,861.45 586.96,855.70 587.33,856.12 587.70,855.30 588.07,865.11 588.44,859.97 588.81,863.95 589.17,856.08 589.54,859.57 589.91,862.72 590.28,863.65 590.65,855.96 591.02,863.25 591.39,859.75 591.76,863.00 592.12,855.85 592.49,863.58 592.86,856.86 593.23,851.07 593.60,864.53 593.97,865.44 594.34,859.41 594.70,857.30 595.07,859.54 595.44,862.09 595.81,855.66 596.18,860.41 596.55,856.97 596.92,862.79 597.29,863.02 597.65,864.10 598.02,851.61 598.39,858.47 598.76,863.65 599.13,865.21 599.50,862.79 599.87,859.53 600.24,856.01 600.60,860.37 600.97,858.89 601.34,861.44 601.71,857.72 602.08,865.16 602.45,864.41 602.82,862.73 603.18,861.61 603.55,849.15 603.92,853.40 604.29,864.98 604.66,858.88 605.03,863.34 605.40,854.03 605.77,863.30 606.13,854.99 606.50,864.67 606.87,855.20 607.24,864.91 607.61,855.84 607.98,828.67 608.35,854.46 608.71,861.61 609.08,854.11 609.45,860.89 609.82,858.80 610.19,865.01 610.56,855.27 610.93,860.42 611.30,853.50 611.66,856.65 612.03,858.99 612.40,861.30 612.77,864.79 613.14,848.61 613.51,853.14 613.88,864.39 614.25,858.80 614.61,862.77 614.98,857.45 615.35,858.27 615.72,857.64 616.09,863.36 616.46,856.43 616.83,864.06 617.19,853.33 617.56,858.94 617.93,854.30 618.30,857.91 618.67,858.02 619.04,862.09 619.41,853.14 619.78,847.24 620.14,863.58 620.51,861.63 620.88,854.41 621.25,852.59 621.62,853.24 621.99,852.04 622.36,856.10 622.73,853.17 623.09,857.94 623.46,861.46 623.83,854.39 624.20,864.61 624.57,851.76 624.94,857.99 625.31,857.96 625.67,863.10 626.04,854.42 626.41,862.86 626.78,856.08 627.15,862.31 627.52,856.44 627.89,863.51 628.26,852.07 628.62,845.60 628.99,863.04 629.36,858.25 629.73,864.27 630.10,856.13 630.47,855.16 630.84,855.82 631.20,849.67 631.57,854.17 631.94,849.23 632.31,854.10 632.68,853.82 633.05,850.35 633.42,847.77 633.79,856.77 634.15,862.01 634.52,860.76 634.89,837.14 635.26,849.63 635.63,860.68 636.00,856.41 636.37,860.62 636.74,858.37 637.10,850.43 637.47,858.13 637.84,853.83 638.21,859.56 638.58,849.20 638.95,859.90 639.32,863.59 639.68,861.01 640.05,853.12 640.42,863.29 640.79,842.05 641.16,847.56 641.53,863.94 641.90,860.11 642.27,849.22 642.63,862.91 643.00,851.07 643.37,859.79 643.74,852.32 644.11,859.93 644.48,843.69 644.85,853.92 645.21,862.55 645.58,863.83 645.95,857.18 646.32,861.57 646.69,858.43 647.06,837.68 647.43,844.00 647.80,858.06 648.16,848.14 648.53,858.18 648.90,851.91 649.27,861.02 649.64,850.48 650.01,846.39 650.38,849.55 650.75,858.31 651.11,852.20 651.48,818.56 651.85,849.33 652.22,854.86 652.59,860.79 652.96,859.73 653.33,853.44 653.69,858.08 654.06,853.21 654.43,857.15 654.80,854.97 655.17,859.18 655.54,842.60 655.91,847.82 656.28,863.31 656.64,851.30 657.01,855.90 657.38,851.23 657.75,853.46 658.12,863.63 658.49,850.84 658.86,860.34 659.23,850.19 659.59,851.05 659.96,854.39 660.33,857.59 660.70,853.36 661.07,861.04 661.44,843.97 661.81,851.92 662.17,861.21 662.54,857.87 662.91,857.96 663.28,858.97 663.65,855.38 664.02,864.00 664.39,846.15 664.76,855.45 665.12,864.54 665.49,856.17 665.86,853.32 666.23,859.56 666.60,854.13 666.97,859.47 667.34,852.57 667.70,864.48 668.07,856.19 668.44,864.72 668.81,856.27 669.18,861.49 669.55,856.90 669.92,859.75 670.29,862.91 670.65,846.42 671.02,851.11 671.39,864.25 671.76,852.18 672.13,858.10 672.50,856.66 672.87,857.51 673.24,853.13 673.60,857.50 673.97,855.40 674.34,860.74 674.71,856.41 675.08,862.19 675.45,861.00 675.82,857.73 676.18,853.99 676.55,861.71 676.92,856.82 677.29,864.49 677.66,847.24 678.03,856.13 678.40,860.26 678.77,860.74 679.13,850.74 679.50,863.72 679.87,854.03 680.24,852.04 680.61,862.31 680.98,860.71 681.35,862.51 681.72,851.61 682.08,841.23 682.45,862.07 682.82,854.41 683.19,861.93 683.56,853.91 683.93,863.58 684.30,856.05 684.66,855.72 685.03,853.17 685.40,864.44 685.77,857.65 686.14,862.21 686.51,855.90 686.88,848.61 687.25,864.35 687.61,861.77 687.98,853.51 688.35,859.77 688.72,850.30 689.09,854.23 689.46,850.42 689.83,859.05 690.19,850.15 690.56,858.06 690.93,832.22 691.30,848.98 691.67,860.57 692.04,842.54 692.41,843.86 692.78,846.79 693.14,848.98 693.51,842.53 693.88,857.40 694.25,846.55 694.62,833.59 694.99,858.47 695.36,842.98 695.73,851.33 696.09,851.28 696.46,854.38 696.83,848.09 697.20,852.98 697.57,846.18 697.94,850.97 698.31,849.01 698.67,855.12 699.04,853.94 699.41,848.83 699.78,854.96 700.15,859.52 700.52,862.18 700.89,850.21 701.26,841.51 701.62,861.62 701.99,854.87 702.36,856.48 702.73,855.16 703.10,858.30 703.47,860.26 703.84,855.87 704.20,846.70 704.57,863.58 704.94,852.27 705.31,864.55 705.68,857.09 706.05,859.58 706.42,852.40 706.79,862.37 707.15,854.37 707.52,859.77 707.89,855.68 708.26,860.39 708.63,854.18 709.00,860.51 709.37,857.90 709.74,857.03 710.10,858.38 710.47,860.66 710.84,855.18 711.21,864.51 711.58,855.88 711.95,858.73 712.32,858.54 712.68,864.72 713.05,855.35 713.42,865.06 713.79,858.52 714.16,850.52 714.53,861.80 714.90,863.13 715.27,859.15 715.63,863.63 716.00,854.81 716.37,861.36 716.74,857.38 717.11,848.06 717.48,861.58 717.85,863.31 718.22,855.74 718.58,863.28 718.95,852.63 719.32,858.66 719.69,853.06 720.06,861.32 720.43,855.86 720.80,864.23 721.16,847.24 721.53,852.98 721.90,861.24 722.27,862.55 722.64,851.61 723.01,860.01 723.38,852.82 723.75,859.85 724.11,851.10 724.48,862.75 724.85,855.47 725.22,855.77 725.59,852.15 725.96,857.27 726.33,855.84 726.69,856.63 727.06,854.21 727.43,856.15 727.80,859.45 728.17,850.62 728.54,838.23 728.91,858.86 729.28,851.62 729.64,862.00 730.01,849.40 730.38,857.15 730.75,848.43 731.12,854.67 731.49,853.27 731.86,856.98 732.23,848.38 732.59,856.99 732.96,853.23 733.33,857.76 733.70,853.49 734.07,859.75 734.44,851.65 734.81,863.64 735.17,851.45 735.54,843.97 735.91,860.29 736.28,860.25 736.65,853.73 737.02,855.87 737.39,850.58 737.76,858.32 738.12,855.29 738.49,862.62 738.86,854.18 739.23,846.42 739.60,861.13 739.97,855.66 740.34,854.23 740.71,862.76 741.07,850.83 741.44,861.33 741.81,850.00 742.18,861.65 742.55,860.53 742.92,860.85 743.29,851.13 743.65,862.53 744.02,851.46 744.39,862.05 744.76,845.08 745.13,838.50 745.50,860.60 745.87,852.43 746.24,853.12 746.60,862.99 746.97,852.52 747.34,860.33 747.71,856.18 748.08,860.48 748.45,857.32 748.82,863.00 749.18,862.40 749.55,857.54 749.92,853.52 750.29,865.23 750.66,863.75 751.03,862.89 751.40,856.89 751.77,858.63 752.13,864.08 752.50,861.04 752.87,858.26 753.24,863.71 753.61,858.88 753.98,853.52 754.35,864.17 754.72,859.68 755.08,856.61 755.45,859.07 755.82,856.18 756.19,863.78 756.56,858.10 756.93,864.39 757.30,849.70 757.66,844.51 758.03,863.78 758.40,863.67 758.77,855.51 759.14,861.61 759.51,856.58 759.88,861.36 760.25,863.36 760.61,850.52 760.98,856.05 761.35,862.37 761.72,855.47 762.09,862.80 762.46,856.26 762.83,862.50 763.19,858.05 763.56,861.94 763.93,856.60 764.30,862.29 764.67,855.55 765.04,861.81 765.41,856.05 765.78,861.83 766.14,849.43 766.51,856.63 766.88,864.41 767.25,862.90 767.62,854.32 767.99,862.20 768.36,858.86 768.73,859.82 769.09,858.13 769.46,862.73 769.83,857.60 770.20,861.76" fill="none" stroke="#0072BD" stroke-width="2.0" stroke-linejoin="bevel"/>
<rect x="180.3" y="647.0" width="589.9000000000001" height="221.0" fill="none" stroke="#262626" stroke-width="1.7"/>
<text class="t" transform="translate(179.10,900.00) scale(1,1.09)" text-anchor="middle">0</text>
<text class="t" transform="translate(326.58,900.00) scale(1,1.09)" text-anchor="middle">100</text>
<text class="t" transform="translate(474.05,900.00) scale(1,1.09)" text-anchor="middle">200</text>
<text class="t" transform="translate(621.53,900.00) scale(1,1.09)" text-anchor="middle">300</text>
<text class="t" transform="translate(769.00,900.00) scale(1,1.09)" text-anchor="middle">400</text>
<text class="t" transform="translate(172.00,877.50) scale(1,1.09)" text-anchor="end">0</text>
<text class="t" transform="translate(172.00,822.88) scale(1,1.09)" text-anchor="end">2</text>
<text class="t" transform="translate(172.00,768.25) scale(1,1.09)" text-anchor="end">4</text>
<text class="t" transform="translate(172.00,713.62) scale(1,1.09)" text-anchor="end">6</text>
<text class="t" transform="translate(172.00,659.00) scale(1,1.09)" text-anchor="end">8</text>
<path d="M183.50,629.40l11.0,11.0M194.50,629.40l-11.0,11.0" stroke="#262626" stroke-width="1.5" fill="none"/>
<text class="t" transform="translate(199.60,640.50) scale(1,1.09)">10<tspan dx="1.6" dy="-9.8" style="font-size:17px">-3</tspan></text>
<text class="t" style="font-size:25.8px" transform="translate(147,758.00) rotate(-90)" text-anchor="middle" textLength="201" xml:space="preserve">Amplitude  (m<tspan dy="-12" style="font-size:18px">2</tspan><tspan dy="12">/s)</tspan></text>
<g font-family="Liberation Serif, serif" fill="#000"><text transform="translate(12.50,805.80) scale(0.9,1)" font-size="36">(</text><text x="24.20" y="804.50" font-size="33" font-weight="bold">c</text><text transform="translate(39.00,805.80) scale(0.9,1)" font-size="36">)</text></g>
<line x1="339.9" y1="740.7" x2="321.3" y2="761.6" stroke="#000" stroke-width="2.0"/>
<polygon points="308.9,777.5 318.7,750.2 321.3,761.6 333.7,763.5" fill="#000" stroke="#000" stroke-width="0.8" stroke-linejoin="round"/>
<text class="t" style="font-size:24.6px" transform="translate(461.5,931.7) scale(1,1.06)" textLength="179" text-anchor="middle">Frequency (Hz)</text>
</svg>
</body></html>
